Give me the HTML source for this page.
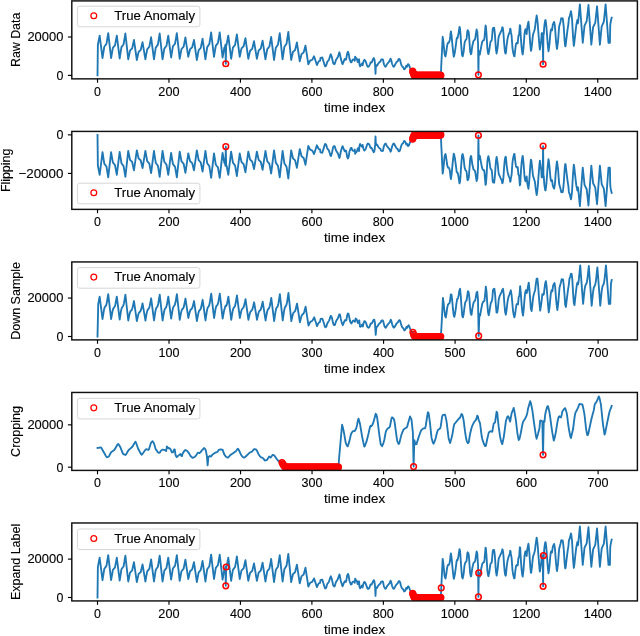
<!DOCTYPE html>
<html><head><meta charset="utf-8"><style>
html,body{margin:0;padding:0;background:#fff;width:640px;height:636px;overflow:hidden}
svg{display:block}
text{font-family:"Liberation Sans", sans-serif;fill:#000;font-size:12.3px;stroke:#000;stroke-width:0.12px}
text.tk{font-size:12.8px}
svg{will-change:transform}
</style></head><body>
<svg width="640" height="636" viewBox="0 0 640 636">
<polyline fill="none" stroke="#1f77b4" stroke-width="1.85" stroke-linejoin="round" stroke-linecap="square" points="97.51,75.40 97.87,45.00 98.22,43.00 98.58,41.00 98.94,39.20 99.30,37.40 99.65,35.60 100.01,38.41 100.37,41.23 100.73,44.04 101.08,46.85 101.44,49.66 101.80,52.48 102.16,55.29 102.51,58.10 102.87,55.82 103.23,53.54 103.58,51.26 103.94,48.98 104.30,46.70 104.66,46.23 105.01,45.75 105.37,45.28 105.73,44.80 106.09,44.33 106.44,43.85 106.80,41.70 107.16,39.55 107.51,37.40 107.87,35.25 108.23,33.10 108.59,36.23 108.94,39.35 109.30,42.48 109.66,45.60 110.02,48.73 110.37,51.85 110.73,54.98 111.09,58.10 111.45,56.05 111.80,54.00 112.16,51.94 112.52,49.89 112.87,47.84 113.23,47.41 113.59,46.99 113.95,46.56 114.30,46.13 114.66,45.70 115.02,45.28 115.38,43.34 115.73,41.41 116.09,39.47 116.45,37.54 116.81,35.60 117.16,38.46 117.52,41.33 117.88,44.19 118.23,47.05 118.59,49.91 118.95,52.78 119.31,55.64 119.66,58.50 120.02,56.22 120.38,53.94 120.74,51.66 121.09,49.38 121.45,47.10 121.81,46.62 122.17,46.15 122.52,45.67 122.88,45.20 123.24,44.73 123.59,44.25 123.95,42.10 124.31,39.95 124.67,37.80 125.02,35.65 125.38,33.50 125.74,36.74 126.10,39.98 126.45,43.21 126.81,46.45 127.17,49.69 127.52,52.92 127.88,56.16 128.24,59.40 128.60,57.63 128.95,55.86 129.31,54.09 129.67,52.32 130.03,50.55 130.38,50.19 130.74,49.82 131.10,49.45 131.46,49.08 131.81,48.71 132.17,48.34 132.53,46.67 132.88,45.01 133.24,43.34 133.60,41.67 133.96,40.00 134.31,42.50 134.67,45.00 135.03,47.50 135.39,50.00 135.74,52.50 136.10,55.00 136.46,57.50 136.82,60.00 137.17,58.38 137.53,56.76 137.89,55.14 138.24,53.52 138.60,51.91 138.96,51.57 139.32,51.23 139.67,50.89 140.03,50.56 140.39,50.22 140.75,49.88 141.10,48.36 141.46,46.83 141.82,45.30 142.18,43.78 142.53,42.25 142.89,44.39 143.25,46.54 143.60,48.68 143.96,50.83 144.32,52.97 144.68,55.11 145.03,57.26 145.39,59.40 145.75,57.38 146.11,55.36 146.46,53.34 146.82,51.32 147.18,49.30 147.53,48.88 147.89,48.46 148.25,48.04 148.61,47.62 148.96,47.20 149.32,46.77 149.68,44.87 150.04,42.96 150.39,41.06 150.75,39.15 151.11,37.25 151.47,40.02 151.82,42.79 152.18,45.56 152.54,48.33 152.89,51.09 153.25,53.86 153.61,56.63 153.97,59.40 154.32,57.04 154.68,54.68 155.04,52.31 155.40,49.95 155.75,47.59 156.11,47.10 156.47,46.61 156.83,46.11 157.18,45.62 157.54,45.13 157.90,44.64 158.25,42.41 158.61,40.18 158.97,37.95 159.33,35.73 159.68,33.50 160.04,36.74 160.40,39.98 160.76,43.21 161.11,46.45 161.47,49.69 161.83,52.92 162.18,56.16 162.54,59.40 162.90,57.23 163.26,55.06 163.61,52.89 163.97,50.72 164.33,48.55 164.69,48.10 165.04,47.64 165.40,47.19 165.76,46.74 166.12,46.29 166.47,45.83 166.83,43.79 167.19,41.74 167.54,39.69 167.90,37.65 168.26,35.60 168.62,38.34 168.97,41.08 169.33,43.81 169.69,46.55 170.05,49.29 170.40,52.03 170.76,54.76 171.12,57.50 171.48,55.27 171.83,53.05 172.19,50.82 172.55,48.60 172.90,46.37 173.26,45.91 173.62,45.45 173.98,44.98 174.33,44.52 174.69,44.06 175.05,43.59 175.41,41.49 175.76,39.40 176.12,37.30 176.48,35.20 176.84,33.10 177.19,36.31 177.55,39.51 177.91,42.72 178.26,45.92 178.62,49.13 178.98,52.34 179.34,55.54 179.69,58.75 180.05,56.81 180.41,54.87 180.77,52.94 181.12,51.00 181.48,49.06 181.84,48.66 182.19,48.25 182.55,47.85 182.91,47.45 183.27,47.04 183.62,46.64 183.98,44.81 184.34,42.98 184.70,41.16 185.05,39.33 185.41,37.50 185.77,39.93 186.13,42.35 186.48,44.78 186.84,47.20 187.20,49.62 187.55,52.05 187.91,54.47 188.27,56.90 188.63,55.36 188.98,53.82 189.34,52.28 189.70,50.73 190.06,49.19 190.41,48.87 190.77,48.55 191.13,48.23 191.49,47.91 191.84,47.59 192.20,47.27 192.56,45.81 192.91,44.36 193.27,42.91 193.63,41.45 193.99,40.00 194.34,42.50 194.70,45.00 195.06,47.50 195.42,50.00 195.77,52.50 196.13,55.00 196.49,57.50 196.84,60.00 197.20,58.06 197.56,56.12 197.92,54.19 198.27,52.25 198.63,50.31 198.99,49.91 199.35,49.50 199.70,49.10 200.06,48.70 200.42,48.29 200.78,47.89 201.13,46.06 201.49,44.23 201.85,42.41 202.20,40.58 202.56,38.75 202.92,41.33 203.28,43.91 203.63,46.49 203.99,49.08 204.35,51.66 204.71,54.24 205.06,56.82 205.42,59.40 205.78,56.95 206.14,54.49 206.49,52.04 206.85,49.59 207.21,47.13 207.56,46.62 207.92,46.11 208.28,45.60 208.64,45.09 208.99,44.58 209.35,44.07 209.71,41.75 210.07,39.44 210.42,37.13 210.78,34.81 211.14,32.50 211.50,35.55 211.85,38.60 212.21,41.65 212.57,44.70 212.92,47.75 213.28,50.80 213.64,53.85 214.00,56.90 214.35,54.67 214.71,52.45 215.07,50.22 215.43,48.00 215.78,45.77 216.14,45.31 216.50,44.85 216.85,44.38 217.21,43.92 217.57,43.46 217.93,42.99 218.28,40.89 218.64,38.80 219.00,36.70 219.36,34.60 219.71,32.50 220.07,35.63 220.43,38.75 220.79,41.88 221.14,45.00 221.50,48.12 221.86,51.25 222.21,54.38 222.57,57.50 222.93,55.50 223.29,53.51 223.64,51.51 224.00,49.51 224.36,47.51 224.72,47.10 225.07,46.68 225.43,44.60 225.79,63.75 226.15,44.90 226.50,45.02 226.86,43.13 227.22,41.25 227.57,39.37 227.93,37.48 228.29,35.60 228.65,38.49 229.00,41.39 229.36,44.28 229.72,47.17 230.08,50.07 230.43,52.96 230.79,55.86 231.15,58.75 231.50,56.53 231.86,54.31 232.22,52.09 232.58,49.87 232.93,47.65 233.29,47.18 233.65,46.72 234.01,46.26 234.36,45.80 234.72,45.33 235.08,44.87 235.44,42.78 235.79,40.68 236.15,38.59 236.51,36.49 236.86,34.40 237.22,37.21 237.58,40.02 237.94,42.84 238.29,45.65 238.65,48.46 239.01,51.28 239.37,54.09 239.72,56.90 240.08,55.19 240.44,53.47 240.80,51.76 241.15,50.04 241.51,48.33 241.87,47.97 242.22,47.61 242.58,47.26 242.94,46.90 243.30,46.54 243.65,46.18 244.01,44.57 244.37,42.95 244.73,41.33 245.08,39.72 245.44,38.10 245.80,40.68 246.16,43.26 246.51,45.84 246.87,48.42 247.23,51.01 247.58,53.59 247.94,56.17 248.30,58.75 248.66,57.15 249.01,55.56 249.37,53.96 249.73,52.37 250.09,50.77 250.44,50.44 250.80,50.10 251.16,49.77 251.51,49.44 251.87,49.11 252.23,48.78 252.59,47.27 252.94,45.77 253.30,44.26 253.66,42.76 254.02,41.25 254.37,43.44 254.73,45.62 255.09,47.81 255.45,50.00 255.80,52.19 256.16,54.38 256.52,56.56 256.87,58.75 257.23,57.09 257.59,55.44 257.95,53.78 258.30,52.13 258.66,50.47 259.02,50.13 259.38,49.78 259.73,49.44 260.09,49.09 260.45,48.75 260.81,48.40 261.16,46.84 261.52,45.28 261.88,43.72 262.23,42.16 262.59,40.60 262.95,42.95 263.31,45.30 263.66,47.65 264.02,50.00 264.38,52.35 264.74,54.70 265.09,57.05 265.45,59.40 265.81,57.35 266.17,55.30 266.52,53.24 266.88,51.19 267.24,49.14 267.59,48.71 267.95,48.29 268.31,47.86 268.67,47.43 269.02,47.00 269.38,46.58 269.74,44.64 270.10,42.71 270.45,40.77 270.81,38.84 271.17,36.90 271.52,39.79 271.88,42.68 272.24,45.56 272.60,48.45 272.95,51.34 273.31,54.23 273.67,57.11 274.03,60.00 274.38,57.55 274.74,55.09 275.10,52.64 275.46,50.19 275.81,47.73 276.17,47.22 276.53,46.71 276.88,46.20 277.24,45.69 277.60,45.18 277.96,44.67 278.31,42.35 278.67,40.04 279.03,37.73 279.39,35.41 279.74,33.10 280.10,36.39 280.46,39.68 280.82,42.96 281.17,46.25 281.53,49.54 281.89,52.83 282.24,56.11 282.60,59.40 282.96,56.89 283.32,54.38 283.67,51.88 284.03,49.37 284.39,46.86 284.75,46.34 285.10,45.81 285.46,45.29 285.82,44.77 286.17,44.25 286.53,43.73 286.89,41.36 287.25,39.00 287.60,36.63 287.96,34.27 288.32,31.90 288.68,35.41 289.03,38.93 289.39,42.44 289.75,45.95 290.11,49.46 290.46,52.98 290.82,56.49 291.18,60.00 291.53,58.40 291.89,56.81 292.25,55.21 292.61,53.62 292.96,52.02 293.32,51.69 293.68,51.36 294.04,51.02 294.39,50.69 294.75,50.36 295.11,50.02 295.47,48.52 295.82,47.02 296.18,45.51 296.54,44.01 296.89,42.50 297.25,44.84 297.61,47.19 297.97,49.53 298.32,51.88 298.68,54.22 299.04,56.56 299.40,58.91 299.75,61.25 300.11,59.82 300.47,58.40 300.83,56.97 301.18,55.54 301.54,54.11 301.90,53.82 302.25,53.52 302.61,53.22 302.97,52.92 303.33,52.63 303.68,52.33 304.04,50.98 304.40,49.64 304.76,48.29 305.11,46.95 305.47,45.60 305.83,47.95 306.18,50.30 306.54,52.65 306.90,55.00 307.26,57.35 307.61,59.70 307.97,62.05 308.33,64.40 308.69,63.66 309.04,62.91 309.40,62.17 309.76,61.43 310.12,60.68 310.47,60.53 310.83,60.37 311.19,60.22 311.54,60.06 311.90,59.91 312.26,59.75 312.62,59.05 312.97,58.35 313.33,57.65 313.69,56.95 314.05,56.25 314.40,57.34 314.76,58.44 315.12,59.53 315.48,60.62 315.83,61.72 316.19,62.81 316.55,63.91 316.90,65.00 317.26,64.26 317.62,63.52 317.98,62.78 318.33,62.05 318.69,61.31 319.05,61.15 319.41,61.00 319.76,60.84 320.12,60.69 320.48,57.94 320.84,57.85 321.19,57.75 321.55,57.66 321.91,57.57 322.26,57.48 322.62,58.60 322.98,59.77 323.34,60.93 323.69,62.10 324.05,63.27 324.41,64.43 324.77,65.60 325.12,66.35 325.48,66.19 325.84,66.03 326.19,65.58 326.55,64.28 326.91,62.98 327.27,61.85 327.62,61.42 327.98,60.99 328.34,60.56 328.70,60.12 329.05,59.28 329.41,58.17 329.77,57.06 330.13,55.95 330.48,54.83 330.84,54.24 331.20,55.22 331.55,56.19 331.91,57.30 332.27,58.98 332.63,60.67 332.98,62.36 333.34,63.52 333.70,63.78 334.06,64.04 334.41,64.30 334.77,63.79 335.13,62.62 335.49,61.45 335.84,60.28 336.20,59.55 336.56,59.00 336.91,58.44 337.27,57.89 337.63,57.33 337.99,56.59 338.34,55.51 338.70,54.42 339.06,53.34 339.42,52.26 339.77,53.42 340.13,55.23 340.49,57.05 340.84,58.87 341.20,60.09 341.56,61.28 341.92,62.46 342.27,63.65 342.63,64.10 342.99,63.21 343.35,62.32 343.70,61.42 344.06,60.53 344.42,59.64 344.78,59.02 345.13,59.28 345.49,59.54 345.85,59.80 346.20,59.07 346.56,56.93 346.92,54.80 347.28,53.09 347.63,52.45 347.99,51.80 348.35,52.81 348.71,53.83 349.06,55.96 349.42,58.55 349.78,59.73 350.14,60.41 350.49,61.57 350.85,62.27 351.21,62.43 351.56,62.22 351.92,61.21 352.28,60.21 352.64,59.82 352.99,59.52 353.35,59.43 353.71,59.64 354.07,59.86 354.42,60.08 354.78,60.71 355.14,56.60 355.50,57.41 355.85,58.23 356.21,58.01 356.57,58.43 356.92,59.08 357.28,60.40 357.64,61.91 358.00,62.00 358.35,61.57 358.71,59.49 359.07,59.25 359.43,64.11 359.78,65.52 360.14,66.29 360.50,65.64 360.85,64.99 361.21,64.45 361.57,63.96 361.93,63.49 362.28,64.99 362.64,65.37 363.00,63.21 363.36,61.96 363.71,61.06 364.07,60.15 364.43,59.80 364.79,60.13 365.14,60.45 365.50,61.18 365.86,61.99 366.21,62.87 366.57,64.01 366.93,65.14 367.29,65.89 367.64,66.38 368.00,66.87 368.36,66.63 368.72,66.37 369.07,66.11 369.43,65.43 369.79,64.56 370.15,63.54 370.50,62.46 370.86,62.33 371.22,62.49 371.57,62.52 371.93,61.74 372.29,60.96 372.65,60.18 373.00,59.47 373.36,58.76 373.72,58.06 374.08,58.61 374.43,59.37 374.79,61.95 375.15,65.63 375.50,73.75 375.86,66.16 376.22,65.73 376.58,65.30 376.93,65.81 377.29,65.43 377.65,64.62 378.01,63.85 378.36,63.42 378.72,62.99 379.08,62.55 379.44,62.16 379.79,61.90 380.15,61.64 380.51,61.38 380.86,60.17 381.22,59.59 381.58,59.48 381.94,59.37 382.29,59.27 382.65,59.40 383.01,59.65 383.37,61.50 383.72,63.41 384.08,64.50 384.44,65.32 384.80,66.07 385.15,66.39 385.51,66.72 385.87,66.49 386.22,65.71 386.58,64.93 386.94,64.23 387.30,63.80 387.65,63.37 388.01,62.94 388.37,62.50 388.73,62.07 389.08,61.64 389.44,61.21 389.80,60.58 390.16,59.61 390.51,58.64 390.87,59.18 391.23,60.26 391.58,61.67 391.94,63.19 392.30,64.26 392.66,65.24 393.01,66.09 393.37,66.41 393.73,66.74 394.09,66.51 394.44,65.86 394.80,65.22 395.16,64.57 395.51,63.92 395.87,63.27 396.23,62.62 396.59,62.11 396.94,61.85 397.30,61.59 397.66,61.29 398.02,60.51 398.37,59.74 398.73,58.96 399.09,59.01 399.45,59.27 399.80,59.53 400.16,60.42 400.52,61.88 400.87,63.34 401.23,64.36 401.59,65.33 401.95,66.12 402.30,66.45 402.66,66.77 403.02,67.09 403.38,67.61 403.73,68.48 404.09,69.32 404.45,69.12 404.81,68.93 405.16,68.77 405.52,67.79 405.88,66.77 406.23,65.75 406.59,66.19 406.95,66.67 407.31,65.86 407.66,65.05 408.02,64.24 408.38,64.22 408.74,64.74 409.09,65.44 409.45,66.41 409.81,67.39 410.17,68.23 410.52,69.04 410.88,69.86 411.24,70.47 411.59,70.47 411.95,70.47 412.31,70.47 412.67,71.20 413.02,72.30 413.38,73.30 413.74,74.20 414.10,74.90 414.45,75.40 414.81,75.40 415.17,75.40 415.52,75.40 415.88,75.40 416.24,75.40 416.60,75.40 416.95,75.40 417.31,75.40 417.67,75.40 418.03,75.40 418.38,75.40 418.74,75.40 419.10,75.40 419.46,75.40 419.81,75.40 420.17,75.40 420.53,75.40 420.88,75.40 421.24,75.40 421.60,75.40 421.96,75.40 422.31,75.40 422.67,75.40 423.03,75.40 423.39,75.40 423.74,75.40 424.10,75.40 424.46,75.40 424.82,75.40 425.17,75.40 425.53,75.40 425.89,75.40 426.24,75.40 426.60,75.40 426.96,75.40 427.32,75.40 427.67,75.40 428.03,75.40 428.39,75.40 428.75,75.40 429.10,75.40 429.46,75.40 429.82,75.40 430.17,75.40 430.53,75.40 430.89,75.40 431.25,75.40 431.60,75.40 431.96,75.40 432.32,75.40 432.68,75.40 433.03,75.40 433.39,75.40 433.75,75.40 434.11,75.40 434.46,75.40 434.82,75.40 435.18,75.40 435.53,75.40 435.89,75.40 436.25,75.40 436.61,75.40 436.96,75.40 437.32,75.40 437.68,75.40 438.04,75.40 438.39,75.40 438.75,75.40 439.11,75.40 439.47,75.40 439.82,75.40 440.18,75.40 440.54,75.40 440.89,75.40 441.25,65.70 441.61,58.50 441.97,51.20 442.32,44.00 442.68,36.80 443.04,39.14 443.40,42.00 443.75,45.33 444.11,49.22 444.47,53.12 444.83,54.75 445.18,55.88 445.54,56.43 445.90,54.32 446.25,52.21 446.61,49.61 446.97,46.58 447.33,44.71 447.68,43.74 448.04,42.77 448.40,42.70 448.76,42.70 449.11,42.32 449.47,41.03 449.83,39.73 450.18,36.94 450.54,33.33 450.90,31.35 451.26,33.64 451.61,35.98 451.97,39.87 452.33,43.76 452.69,47.65 453.04,50.85 453.40,53.80 453.76,56.74 454.12,55.83 454.47,54.14 454.83,52.45 455.19,50.04 455.54,47.44 455.90,44.80 456.26,41.88 456.62,38.96 456.97,37.79 457.33,38.22 457.69,37.54 458.05,35.92 458.40,34.30 458.76,31.91 459.12,29.45 459.48,26.99 459.83,27.72 460.19,30.53 460.55,35.10 460.90,40.72 461.26,45.64 461.62,50.18 461.98,54.68 462.33,55.55 462.69,56.33 463.05,54.71 463.41,53.09 463.76,50.70 464.12,47.14 464.48,43.57 464.83,41.96 465.19,40.99 465.55,40.10 465.91,39.80 466.26,39.50 466.62,38.42 466.98,34.85 467.34,31.28 467.69,30.19 468.05,30.72 468.41,31.26 468.77,32.97 469.12,37.00 469.48,41.93 469.84,46.86 470.19,51.41 470.55,52.87 470.91,54.33 471.27,53.82 471.62,51.09 471.98,48.37 472.34,45.85 472.70,44.29 473.05,42.74 473.41,41.18 473.77,40.66 474.13,40.29 474.48,39.92 474.84,39.55 475.20,38.66 475.55,36.28 475.91,33.94 476.27,31.67 476.63,29.40 476.98,30.76 477.34,32.00 477.70,38.00 478.06,44.00 478.41,74.80 478.77,50.80 479.13,53.00 479.49,54.60 479.84,54.53 480.20,52.46 480.56,50.38 480.91,48.31 481.27,46.43 481.63,44.62 481.99,42.80 482.34,41.60 482.70,41.08 483.06,40.56 483.42,40.13 483.77,40.13 484.13,40.13 484.49,37.82 484.84,33.50 485.20,29.42 485.56,25.52 485.92,26.37 486.27,30.69 486.63,36.11 486.99,42.27 487.35,48.43 487.70,50.86 488.06,53.13 488.42,54.15 488.78,52.53 489.13,50.91 489.49,48.62 489.85,46.03 490.20,43.44 490.56,41.67 490.92,41.24 491.28,40.81 491.63,40.38 491.99,38.19 492.35,33.65 492.71,29.11 493.06,28.07 493.42,27.96 493.78,27.85 494.14,27.74 494.49,30.42 494.85,33.66 495.21,38.64 495.56,44.01 495.92,49.41 496.28,51.48 496.64,53.47 496.99,51.40 497.35,49.04 497.71,46.50 498.07,42.61 498.42,38.72 498.78,36.33 499.14,35.55 499.50,34.78 499.85,33.99 500.21,33.18 500.57,32.37 500.92,31.65 501.28,31.00 501.64,30.35 502.00,28.82 502.35,27.20 502.71,27.67 503.07,29.96 503.43,33.09 503.78,38.28 504.14,43.47 504.50,47.52 504.85,50.98 505.21,52.71 505.57,53.61 505.93,53.04 506.28,49.04 506.64,45.11 507.00,42.52 507.36,39.92 507.71,37.88 508.07,36.58 508.43,35.28 508.79,34.06 509.14,33.41 509.50,32.77 509.86,31.18 510.21,28.58 510.57,29.26 510.93,32.67 511.29,33.97 511.64,36.07 512.00,41.26 512.36,46.44 512.72,49.79 513.07,51.73 513.43,53.68 513.79,55.02 514.15,56.32 514.50,56.29 514.86,53.05 515.22,49.81 515.57,46.99 515.93,44.40 516.29,43.33 516.65,43.01 517.00,42.71 517.36,43.14 517.72,43.33 518.08,39.44 518.43,35.82 518.79,35.39 519.15,34.53 519.50,29.83 519.86,25.13 520.22,25.88 520.58,33.02 520.93,38.90 521.29,43.44 521.65,47.98 522.01,50.74 522.36,53.17 522.72,54.47 523.08,51.39 523.44,48.32 523.79,43.93 524.15,38.87 524.51,33.81 524.86,31.72 525.22,29.78 525.58,29.16 525.94,30.03 526.29,32.07 526.65,34.05 527.01,30.16 527.37,26.71 527.72,25.02 528.08,23.34 528.44,21.65 528.80,24.84 529.15,28.57 529.51,32.77 529.87,38.28 530.22,43.79 530.58,47.75 530.94,50.78 531.30,49.97 531.65,47.05 532.01,44.13 532.37,40.56 532.73,36.99 533.08,34.36 533.44,33.32 533.80,32.28 534.16,31.23 534.51,29.93 534.87,28.63 535.23,26.22 535.58,22.50 535.94,20.17 536.30,17.83 536.66,15.50 537.01,17.45 537.37,20.36 537.73,23.63 538.09,28.49 538.44,33.35 538.80,37.97 539.16,42.38 539.51,46.79 539.87,49.59 540.23,47.32 540.59,45.05 540.94,42.59 541.30,39.99 541.66,33.20 542.02,33.00 542.37,33.50 542.73,34.00 543.09,64.20 543.45,33.50 543.80,34.30 544.16,27.83 544.52,24.63 544.87,22.42 545.23,20.22 545.59,20.05 545.95,22.80 546.30,25.56 546.66,29.99 547.02,34.92 547.38,39.85 547.73,44.13 548.09,47.70 548.45,51.26 548.81,49.41 549.16,46.49 549.52,43.32 549.88,39.10 550.23,34.89 550.59,31.82 550.95,29.66 551.31,29.23 551.66,30.04 552.02,30.32 552.38,28.01 552.74,24.91 553.09,24.03 553.45,23.12 553.81,22.22 554.16,21.88 554.52,23.99 554.88,26.10 555.24,30.14 555.59,35.76 555.95,40.17 556.31,43.67 556.67,47.17 557.02,48.96 557.38,46.24 557.74,43.51 558.10,40.79 558.45,35.66 558.81,30.47 559.17,26.60 559.52,25.31 559.88,24.01 560.24,22.71 560.60,21.42 560.95,19.42 561.31,18.10 561.67,18.19 562.03,18.28 562.38,18.38 562.74,18.47 563.10,21.03 563.46,24.28 563.81,27.90 564.17,33.74 564.53,39.57 564.88,43.76 565.24,46.35 565.60,45.92 565.96,42.81 566.31,39.70 566.67,36.63 567.03,33.71 567.39,30.79 567.74,28.26 568.10,25.99 568.46,23.72 568.82,19.28 569.17,17.36 569.53,16.93 569.89,15.78 570.24,14.27 570.60,12.76 570.96,11.24 571.32,12.83 571.67,15.75 572.03,18.89 572.39,25.37 572.75,31.86 573.10,37.38 573.46,41.59 573.82,45.81 574.17,44.07 574.53,40.70 574.89,37.33 575.25,34.08 575.60,30.97 575.96,27.86 576.32,25.00 576.68,23.28 577.03,21.55 577.39,19.82 577.75,23.30 578.11,22.50 578.46,18.88 578.82,15.26 579.18,11.64 579.53,8.02 579.89,4.40 580.25,9.20 580.61,14.00 580.96,18.80 581.32,23.60 581.68,28.40 582.04,33.20 582.39,38.00 582.75,42.80 583.11,39.35 583.47,35.91 583.82,32.46 584.18,29.01 584.54,25.56 584.89,24.85 585.25,24.13 585.61,23.41 585.97,22.69 586.32,21.97 586.68,21.25 587.04,18.00 587.40,14.75 587.75,11.50 588.11,8.25 588.47,5.00 588.83,9.96 589.18,14.93 589.54,19.89 589.90,24.85 590.25,29.81 590.61,34.78 590.97,39.74 591.33,44.70 591.68,41.20 592.04,37.70 592.40,34.19 592.76,30.69 593.11,27.19 593.47,26.46 593.83,25.73 594.18,25.00 594.54,24.27 594.90,23.54 595.26,22.81 595.61,19.51 595.97,16.21 596.33,12.90 596.69,9.60 597.04,6.30 597.40,11.10 597.76,15.90 598.12,20.70 598.47,25.50 598.83,30.30 599.19,35.10 599.54,39.90 599.90,44.70 600.26,41.02 600.62,37.35 600.97,33.67 601.33,30.00 601.69,26.32 602.05,25.56 602.40,24.79 602.76,24.03 603.12,23.26 603.48,22.49 603.83,21.73 604.19,18.26 604.55,14.80 604.90,11.33 605.26,7.87 605.62,4.40 605.98,9.20 606.33,14.00 606.69,18.80 607.05,23.60 607.41,28.40 607.76,33.20 608.12,38.00 608.48,42.80 608.83,42.80 609.19,42.80 609.55,42.80 609.91,42.80 610.26,25.00 610.62,22.50 610.98,20.50 611.34,19.00 611.69,17.60"/>
<circle cx="225.79" cy="63.75" r="2.85" fill="none" stroke="#ff0000" stroke-width="1.5"/>
<circle cx="412.67" cy="71.20" r="2.85" fill="none" stroke="#ff0000" stroke-width="1.5"/>
<circle cx="413.02" cy="72.30" r="2.85" fill="none" stroke="#ff0000" stroke-width="1.5"/>
<circle cx="413.38" cy="73.30" r="2.85" fill="none" stroke="#ff0000" stroke-width="1.5"/>
<circle cx="413.74" cy="74.20" r="2.85" fill="none" stroke="#ff0000" stroke-width="1.5"/>
<circle cx="414.10" cy="74.90" r="2.85" fill="none" stroke="#ff0000" stroke-width="1.5"/>
<circle cx="414.45" cy="75.40" r="2.85" fill="none" stroke="#ff0000" stroke-width="1.5"/>
<circle cx="414.81" cy="75.40" r="2.85" fill="none" stroke="#ff0000" stroke-width="1.5"/>
<circle cx="415.17" cy="75.40" r="2.85" fill="none" stroke="#ff0000" stroke-width="1.5"/>
<circle cx="415.52" cy="75.40" r="2.85" fill="none" stroke="#ff0000" stroke-width="1.5"/>
<circle cx="415.88" cy="75.40" r="2.85" fill="none" stroke="#ff0000" stroke-width="1.5"/>
<circle cx="416.24" cy="75.40" r="2.85" fill="none" stroke="#ff0000" stroke-width="1.5"/>
<circle cx="416.60" cy="75.40" r="2.85" fill="none" stroke="#ff0000" stroke-width="1.5"/>
<circle cx="416.95" cy="75.40" r="2.85" fill="none" stroke="#ff0000" stroke-width="1.5"/>
<circle cx="417.31" cy="75.40" r="2.85" fill="none" stroke="#ff0000" stroke-width="1.5"/>
<circle cx="417.67" cy="75.40" r="2.85" fill="none" stroke="#ff0000" stroke-width="1.5"/>
<circle cx="418.03" cy="75.40" r="2.85" fill="none" stroke="#ff0000" stroke-width="1.5"/>
<circle cx="418.38" cy="75.40" r="2.85" fill="none" stroke="#ff0000" stroke-width="1.5"/>
<circle cx="418.74" cy="75.40" r="2.85" fill="none" stroke="#ff0000" stroke-width="1.5"/>
<circle cx="419.10" cy="75.40" r="2.85" fill="none" stroke="#ff0000" stroke-width="1.5"/>
<circle cx="419.46" cy="75.40" r="2.85" fill="none" stroke="#ff0000" stroke-width="1.5"/>
<circle cx="419.81" cy="75.40" r="2.85" fill="none" stroke="#ff0000" stroke-width="1.5"/>
<circle cx="420.17" cy="75.40" r="2.85" fill="none" stroke="#ff0000" stroke-width="1.5"/>
<circle cx="420.53" cy="75.40" r="2.85" fill="none" stroke="#ff0000" stroke-width="1.5"/>
<circle cx="420.88" cy="75.40" r="2.85" fill="none" stroke="#ff0000" stroke-width="1.5"/>
<circle cx="421.24" cy="75.40" r="2.85" fill="none" stroke="#ff0000" stroke-width="1.5"/>
<circle cx="421.60" cy="75.40" r="2.85" fill="none" stroke="#ff0000" stroke-width="1.5"/>
<circle cx="421.96" cy="75.40" r="2.85" fill="none" stroke="#ff0000" stroke-width="1.5"/>
<circle cx="422.31" cy="75.40" r="2.85" fill="none" stroke="#ff0000" stroke-width="1.5"/>
<circle cx="422.67" cy="75.40" r="2.85" fill="none" stroke="#ff0000" stroke-width="1.5"/>
<circle cx="423.03" cy="75.40" r="2.85" fill="none" stroke="#ff0000" stroke-width="1.5"/>
<circle cx="423.39" cy="75.40" r="2.85" fill="none" stroke="#ff0000" stroke-width="1.5"/>
<circle cx="423.74" cy="75.40" r="2.85" fill="none" stroke="#ff0000" stroke-width="1.5"/>
<circle cx="424.10" cy="75.40" r="2.85" fill="none" stroke="#ff0000" stroke-width="1.5"/>
<circle cx="424.46" cy="75.40" r="2.85" fill="none" stroke="#ff0000" stroke-width="1.5"/>
<circle cx="424.82" cy="75.40" r="2.85" fill="none" stroke="#ff0000" stroke-width="1.5"/>
<circle cx="425.17" cy="75.40" r="2.85" fill="none" stroke="#ff0000" stroke-width="1.5"/>
<circle cx="425.53" cy="75.40" r="2.85" fill="none" stroke="#ff0000" stroke-width="1.5"/>
<circle cx="425.89" cy="75.40" r="2.85" fill="none" stroke="#ff0000" stroke-width="1.5"/>
<circle cx="426.24" cy="75.40" r="2.85" fill="none" stroke="#ff0000" stroke-width="1.5"/>
<circle cx="426.60" cy="75.40" r="2.85" fill="none" stroke="#ff0000" stroke-width="1.5"/>
<circle cx="426.96" cy="75.40" r="2.85" fill="none" stroke="#ff0000" stroke-width="1.5"/>
<circle cx="427.32" cy="75.40" r="2.85" fill="none" stroke="#ff0000" stroke-width="1.5"/>
<circle cx="427.67" cy="75.40" r="2.85" fill="none" stroke="#ff0000" stroke-width="1.5"/>
<circle cx="428.03" cy="75.40" r="2.85" fill="none" stroke="#ff0000" stroke-width="1.5"/>
<circle cx="428.39" cy="75.40" r="2.85" fill="none" stroke="#ff0000" stroke-width="1.5"/>
<circle cx="428.75" cy="75.40" r="2.85" fill="none" stroke="#ff0000" stroke-width="1.5"/>
<circle cx="429.10" cy="75.40" r="2.85" fill="none" stroke="#ff0000" stroke-width="1.5"/>
<circle cx="429.46" cy="75.40" r="2.85" fill="none" stroke="#ff0000" stroke-width="1.5"/>
<circle cx="429.82" cy="75.40" r="2.85" fill="none" stroke="#ff0000" stroke-width="1.5"/>
<circle cx="430.17" cy="75.40" r="2.85" fill="none" stroke="#ff0000" stroke-width="1.5"/>
<circle cx="430.53" cy="75.40" r="2.85" fill="none" stroke="#ff0000" stroke-width="1.5"/>
<circle cx="430.89" cy="75.40" r="2.85" fill="none" stroke="#ff0000" stroke-width="1.5"/>
<circle cx="431.25" cy="75.40" r="2.85" fill="none" stroke="#ff0000" stroke-width="1.5"/>
<circle cx="431.60" cy="75.40" r="2.85" fill="none" stroke="#ff0000" stroke-width="1.5"/>
<circle cx="431.96" cy="75.40" r="2.85" fill="none" stroke="#ff0000" stroke-width="1.5"/>
<circle cx="432.32" cy="75.40" r="2.85" fill="none" stroke="#ff0000" stroke-width="1.5"/>
<circle cx="432.68" cy="75.40" r="2.85" fill="none" stroke="#ff0000" stroke-width="1.5"/>
<circle cx="433.03" cy="75.40" r="2.85" fill="none" stroke="#ff0000" stroke-width="1.5"/>
<circle cx="433.39" cy="75.40" r="2.85" fill="none" stroke="#ff0000" stroke-width="1.5"/>
<circle cx="433.75" cy="75.40" r="2.85" fill="none" stroke="#ff0000" stroke-width="1.5"/>
<circle cx="434.11" cy="75.40" r="2.85" fill="none" stroke="#ff0000" stroke-width="1.5"/>
<circle cx="434.46" cy="75.40" r="2.85" fill="none" stroke="#ff0000" stroke-width="1.5"/>
<circle cx="434.82" cy="75.40" r="2.85" fill="none" stroke="#ff0000" stroke-width="1.5"/>
<circle cx="435.18" cy="75.40" r="2.85" fill="none" stroke="#ff0000" stroke-width="1.5"/>
<circle cx="435.53" cy="75.40" r="2.85" fill="none" stroke="#ff0000" stroke-width="1.5"/>
<circle cx="435.89" cy="75.40" r="2.85" fill="none" stroke="#ff0000" stroke-width="1.5"/>
<circle cx="436.25" cy="75.40" r="2.85" fill="none" stroke="#ff0000" stroke-width="1.5"/>
<circle cx="436.61" cy="75.40" r="2.85" fill="none" stroke="#ff0000" stroke-width="1.5"/>
<circle cx="436.96" cy="75.40" r="2.85" fill="none" stroke="#ff0000" stroke-width="1.5"/>
<circle cx="437.32" cy="75.40" r="2.85" fill="none" stroke="#ff0000" stroke-width="1.5"/>
<circle cx="437.68" cy="75.40" r="2.85" fill="none" stroke="#ff0000" stroke-width="1.5"/>
<circle cx="438.04" cy="75.40" r="2.85" fill="none" stroke="#ff0000" stroke-width="1.5"/>
<circle cx="438.39" cy="75.40" r="2.85" fill="none" stroke="#ff0000" stroke-width="1.5"/>
<circle cx="438.75" cy="75.40" r="2.85" fill="none" stroke="#ff0000" stroke-width="1.5"/>
<circle cx="439.11" cy="75.40" r="2.85" fill="none" stroke="#ff0000" stroke-width="1.5"/>
<circle cx="439.47" cy="75.40" r="2.85" fill="none" stroke="#ff0000" stroke-width="1.5"/>
<circle cx="439.82" cy="75.40" r="2.85" fill="none" stroke="#ff0000" stroke-width="1.5"/>
<circle cx="440.18" cy="75.40" r="2.85" fill="none" stroke="#ff0000" stroke-width="1.5"/>
<circle cx="440.54" cy="75.40" r="2.85" fill="none" stroke="#ff0000" stroke-width="1.5"/>
<circle cx="440.89" cy="75.40" r="2.85" fill="none" stroke="#ff0000" stroke-width="1.5"/>
<circle cx="478.41" cy="74.80" r="2.85" fill="none" stroke="#ff0000" stroke-width="1.5"/>
<circle cx="543.09" cy="64.20" r="2.85" fill="none" stroke="#ff0000" stroke-width="1.5"/>
<rect x="71.80" y="0.90" width="565.60" height="77.95" fill="none" stroke="#111" stroke-width="1.45"/>
<line x1="67.90" y1="75.40" x2="71.80" y2="75.40" stroke="#000" stroke-width="1.15"/>
<text x="63.40" y="79.70" text-anchor="end" textLength="6.90" lengthAdjust="spacingAndGlyphs" class="tk">0</text>
<line x1="67.90" y1="37.00" x2="71.80" y2="37.00" stroke="#000" stroke-width="1.15"/>
<text x="63.40" y="41.30" text-anchor="end" textLength="36.00" lengthAdjust="spacingAndGlyphs" class="tk">20000</text>
<line x1="97.51" y1="78.85" x2="97.51" y2="82.75" stroke="#000" stroke-width="1.15"/>
<text x="97.51" y="95.55" text-anchor="middle" textLength="6.90" lengthAdjust="spacingAndGlyphs" class="tk">0</text>
<line x1="168.97" y1="78.85" x2="168.97" y2="82.75" stroke="#000" stroke-width="1.15"/>
<text x="168.97" y="95.55" text-anchor="middle" textLength="21.20" lengthAdjust="spacingAndGlyphs" class="tk">200</text>
<line x1="240.44" y1="78.85" x2="240.44" y2="82.75" stroke="#000" stroke-width="1.15"/>
<text x="240.44" y="95.55" text-anchor="middle" textLength="21.00" lengthAdjust="spacingAndGlyphs" class="tk">400</text>
<line x1="311.90" y1="78.85" x2="311.90" y2="82.75" stroke="#000" stroke-width="1.15"/>
<text x="311.90" y="95.55" text-anchor="middle" textLength="21.00" lengthAdjust="spacingAndGlyphs" class="tk">600</text>
<line x1="383.37" y1="78.85" x2="383.37" y2="82.75" stroke="#000" stroke-width="1.15"/>
<text x="383.37" y="95.55" text-anchor="middle" textLength="21.00" lengthAdjust="spacingAndGlyphs" class="tk">800</text>
<line x1="454.83" y1="78.85" x2="454.83" y2="82.75" stroke="#000" stroke-width="1.15"/>
<text x="454.83" y="95.55" text-anchor="middle" textLength="28.10" lengthAdjust="spacingAndGlyphs" class="tk">1000</text>
<line x1="526.29" y1="78.85" x2="526.29" y2="82.75" stroke="#000" stroke-width="1.15"/>
<text x="526.29" y="95.55" text-anchor="middle" textLength="28.10" lengthAdjust="spacingAndGlyphs" class="tk">1200</text>
<line x1="597.76" y1="78.85" x2="597.76" y2="82.75" stroke="#000" stroke-width="1.15"/>
<text x="597.76" y="95.55" text-anchor="middle" textLength="28.10" lengthAdjust="spacingAndGlyphs" class="tk">1400</text>
<text x="354.60" y="111.75" text-anchor="middle" textLength="61.00" lengthAdjust="spacingAndGlyphs">time index</text>
<g transform="translate(20.10,39.88) rotate(-90)"><text x="0.00" y="0.00" text-anchor="middle" textLength="54.30" lengthAdjust="spacingAndGlyphs">Raw Data</text></g>
<rect x="77.4" y="6.20" width="122.5" height="20.6" rx="2.3" fill="#fff" fill-opacity="0.8" stroke="#d6d6d6" stroke-width="1"/>
<circle cx="93.8" cy="15.70" r="2.9" fill="none" stroke="#ff0000" stroke-width="1.25"/>
<text x="114.20" y="19.75" text-anchor="start" textLength="80.80" lengthAdjust="spacingAndGlyphs">True Anomaly</text>
<polyline fill="none" stroke="#1f77b4" stroke-width="1.85" stroke-linejoin="round" stroke-linecap="square" points="97.51,134.85 97.87,165.37 98.22,167.38 98.58,169.38 98.94,171.19 99.30,173.00 99.65,174.81 100.01,171.98 100.37,169.16 100.73,166.34 101.08,163.51 101.44,160.69 101.80,157.86 102.16,155.04 102.51,152.22 102.87,154.51 103.23,156.80 103.58,159.08 103.94,161.37 104.30,163.66 104.66,164.14 105.01,164.62 105.37,165.09 105.73,165.57 106.09,166.05 106.44,166.52 106.80,168.68 107.16,170.84 107.51,173.00 107.87,175.16 108.23,177.32 108.59,174.18 108.94,171.04 109.30,167.90 109.66,164.77 110.02,161.63 110.37,158.49 110.73,155.35 111.09,152.22 111.45,154.28 111.80,156.34 112.16,158.40 112.52,160.46 112.87,162.52 113.23,162.95 113.59,163.38 113.95,163.81 114.30,164.23 114.66,164.66 115.02,165.09 115.38,167.04 115.73,168.98 116.09,170.92 116.45,172.86 116.81,174.81 117.16,171.93 117.52,169.06 117.88,166.18 118.23,163.31 118.59,160.44 118.95,157.56 119.31,154.69 119.66,151.82 120.02,154.10 120.38,156.39 120.74,158.68 121.09,160.97 121.45,163.26 121.81,163.74 122.17,164.21 122.52,164.69 122.88,165.17 123.24,165.64 123.59,166.12 123.95,168.28 124.31,170.44 124.67,172.60 125.02,174.76 125.38,176.91 125.74,173.66 126.10,170.41 126.45,167.16 126.81,163.91 127.17,160.66 127.52,157.41 127.88,154.16 128.24,150.91 128.60,152.69 128.95,154.46 129.31,156.24 129.67,158.02 130.03,159.79 130.38,160.16 130.74,160.53 131.10,160.90 131.46,161.27 131.81,161.64 132.17,162.01 132.53,163.69 132.88,165.36 133.24,167.04 133.60,168.71 133.96,170.39 134.31,167.88 134.67,165.37 135.03,162.86 135.39,160.35 135.74,157.84 136.10,155.33 136.46,152.82 136.82,150.31 137.17,151.94 137.53,153.56 137.89,155.19 138.24,156.81 138.60,158.44 138.96,158.77 139.32,159.11 139.67,159.45 140.03,159.79 140.39,160.13 140.75,160.47 141.10,162.00 141.46,163.53 141.82,165.06 142.18,166.60 142.53,168.13 142.89,165.98 143.25,163.83 143.60,161.67 143.96,159.52 144.32,157.37 144.68,155.22 145.03,153.06 145.39,150.91 145.75,152.94 146.11,154.97 146.46,157.00 146.82,159.02 147.18,161.05 147.53,161.47 147.89,161.90 148.25,162.32 148.61,162.74 148.96,163.16 149.32,163.59 149.68,165.50 150.04,167.41 150.39,169.32 150.75,171.24 151.11,173.15 151.47,170.37 151.82,167.59 152.18,164.81 152.54,162.03 152.89,159.25 153.25,156.47 153.61,153.69 153.97,150.91 154.32,153.28 154.68,155.66 155.04,158.03 155.40,160.40 155.75,162.77 156.11,163.26 156.47,163.76 156.83,164.25 157.18,164.75 157.54,165.24 157.90,165.73 158.25,167.97 158.61,170.21 158.97,172.44 159.33,174.68 159.68,176.91 160.04,173.66 160.40,170.41 160.76,167.16 161.11,163.91 161.47,160.66 161.83,157.41 162.18,154.16 162.54,150.91 162.90,153.09 163.26,155.27 163.61,157.45 163.97,159.63 164.33,161.81 164.69,162.26 165.04,162.72 165.40,163.17 165.76,163.62 166.12,164.08 166.47,164.53 166.83,166.59 167.19,168.64 167.54,170.70 167.90,172.75 168.26,174.81 168.62,172.06 168.97,169.31 169.33,166.56 169.69,163.81 170.05,161.06 170.40,158.32 170.76,155.57 171.12,152.82 171.48,155.05 171.83,157.29 172.19,159.52 172.55,161.76 172.90,163.99 173.26,164.46 173.62,164.92 173.98,165.39 174.33,165.85 174.69,166.32 175.05,166.78 175.41,168.89 175.76,171.00 176.12,173.10 176.48,175.21 176.84,177.32 177.19,174.10 177.55,170.88 177.91,167.66 178.26,164.44 178.62,161.22 178.98,158.00 179.34,154.78 179.69,151.57 180.05,153.51 180.41,155.46 180.77,157.40 181.12,159.35 181.48,161.29 181.84,161.70 182.19,162.10 182.55,162.51 182.91,162.91 183.27,163.32 183.62,163.72 183.98,165.56 184.34,167.39 184.70,169.23 185.05,171.06 185.41,172.90 185.77,170.46 186.13,168.03 186.48,165.59 186.84,163.16 187.20,160.73 187.55,158.29 187.91,155.86 188.27,153.42 188.63,154.97 188.98,156.52 189.34,158.06 189.70,159.61 190.06,161.16 190.41,161.48 190.77,161.80 191.13,162.13 191.49,162.45 191.84,162.77 192.20,163.09 192.56,164.55 192.91,166.01 193.27,167.47 193.63,168.93 193.99,170.39 194.34,167.88 194.70,165.37 195.06,162.86 195.42,160.35 195.77,157.84 196.13,155.33 196.49,152.82 196.84,150.31 197.20,152.26 197.56,154.20 197.92,156.15 198.27,158.09 198.63,160.04 198.99,160.44 199.35,160.85 199.70,161.25 200.06,161.66 200.42,162.06 200.78,162.47 201.13,164.30 201.49,166.14 201.85,167.97 202.20,169.81 202.56,171.64 202.92,169.05 203.28,166.46 203.63,163.87 203.99,161.28 204.35,158.69 204.71,156.10 205.06,153.50 205.42,150.91 205.78,153.38 206.14,155.84 206.49,158.30 206.85,160.76 207.21,163.23 207.56,163.74 207.92,164.25 208.28,164.77 208.64,165.28 208.99,165.79 209.35,166.31 209.71,168.63 210.07,170.95 210.42,173.27 210.78,175.60 211.14,177.92 211.50,174.86 211.85,171.79 212.21,168.73 212.57,165.67 212.92,162.61 213.28,159.55 213.64,156.48 214.00,153.42 214.35,155.66 214.71,157.89 215.07,160.12 215.43,162.36 215.78,164.59 216.14,165.06 216.50,165.52 216.85,165.99 217.21,166.45 217.57,166.92 217.93,167.38 218.28,169.49 218.64,171.60 219.00,173.70 219.36,175.81 219.71,177.92 220.07,174.78 220.43,171.64 220.79,168.51 221.14,165.37 221.50,162.23 221.86,159.09 222.21,155.96 222.57,152.82 222.93,154.83 223.29,156.83 223.64,158.84 224.00,160.84 224.36,162.85 224.72,163.26 225.07,163.68 225.43,165.77 225.79,146.55 226.15,165.47 226.50,165.35 226.86,167.24 227.22,169.13 227.57,171.02 227.93,172.91 228.29,174.81 228.65,171.90 229.00,169.00 229.36,166.09 229.72,163.19 230.08,160.28 230.43,157.38 230.79,154.47 231.15,151.57 231.50,153.79 231.86,156.02 232.22,158.25 232.58,160.48 232.93,162.71 233.29,163.18 233.65,163.64 234.01,164.11 234.36,164.57 234.72,165.03 235.08,165.50 235.44,167.60 235.79,169.70 236.15,171.81 236.51,173.91 236.86,176.01 237.22,173.19 237.58,170.36 237.94,167.54 238.29,164.72 238.65,161.89 239.01,159.07 239.37,156.25 239.72,153.42 240.08,155.14 240.44,156.86 240.80,158.59 241.15,160.31 241.51,162.03 241.87,162.39 242.22,162.75 242.58,163.10 242.94,163.46 243.30,163.82 243.65,164.18 244.01,165.80 244.37,167.43 244.73,169.05 245.08,170.67 245.44,172.30 245.80,169.70 246.16,167.11 246.51,164.52 246.87,161.93 247.23,159.34 247.58,156.75 247.94,154.16 248.30,151.57 248.66,153.17 249.01,154.77 249.37,156.37 249.73,157.97 250.09,159.58 250.44,159.91 250.80,160.24 251.16,160.58 251.51,160.91 251.87,161.25 252.23,161.58 252.59,163.09 252.94,164.60 253.30,166.11 253.66,167.62 254.02,169.13 254.37,166.94 254.73,164.74 255.09,162.55 255.45,160.35 255.80,158.15 256.16,155.96 256.52,153.76 256.87,151.57 257.23,153.23 257.59,154.89 257.95,156.55 258.30,158.21 258.66,159.87 259.02,160.22 259.38,160.57 259.73,160.91 260.09,161.26 260.45,161.60 260.81,161.95 261.16,163.52 261.52,165.08 261.88,166.65 262.23,168.22 262.59,169.79 262.95,167.43 263.31,165.07 263.66,162.71 264.02,160.35 264.38,157.99 264.74,155.63 265.09,153.27 265.45,150.91 265.81,152.97 266.17,155.03 266.52,157.09 266.88,159.15 267.24,161.21 267.59,161.64 267.95,162.07 268.31,162.50 268.67,162.93 269.02,163.36 269.38,163.79 269.74,165.73 270.10,167.67 270.45,169.62 270.81,171.56 271.17,173.50 271.52,170.60 271.88,167.70 272.24,164.80 272.60,161.91 272.95,159.01 273.31,156.11 273.67,153.21 274.03,150.31 274.38,152.77 274.74,155.24 275.10,157.70 275.46,160.16 275.81,162.62 276.17,163.14 276.53,163.65 276.88,164.16 277.24,164.68 277.60,165.19 277.96,165.70 278.31,168.03 278.67,170.35 279.03,172.67 279.39,174.99 279.74,177.32 280.10,174.01 280.46,170.71 280.82,167.41 281.17,164.11 281.53,160.81 281.89,157.51 282.24,154.21 282.60,150.91 282.96,153.43 283.32,155.95 283.67,158.47 284.03,160.98 284.39,163.50 284.75,164.03 285.10,164.55 285.46,165.08 285.82,165.60 286.17,166.12 286.53,166.65 286.89,169.02 287.25,171.40 287.60,173.77 287.96,176.15 288.32,178.52 288.68,174.99 289.03,171.47 289.39,167.94 289.75,164.42 290.11,160.89 290.46,157.36 290.82,153.84 291.18,150.31 291.53,151.91 291.89,153.51 292.25,155.12 292.61,156.72 292.96,158.32 293.32,158.66 293.68,158.99 294.04,159.32 294.39,159.66 294.75,159.99 295.11,160.32 295.47,161.84 295.82,163.35 296.18,164.86 296.54,166.37 296.89,167.88 297.25,165.53 297.61,163.17 297.97,160.82 298.32,158.47 298.68,156.11 299.04,153.76 299.40,151.41 299.75,149.06 300.11,150.49 300.47,151.92 300.83,153.35 301.18,154.79 301.54,156.22 301.90,156.52 302.25,156.82 302.61,157.12 302.97,157.41 303.33,157.71 303.68,158.01 304.04,159.36 304.40,160.71 304.76,162.06 305.11,163.42 305.47,164.77 305.83,162.41 306.18,160.05 306.54,157.69 306.90,155.33 307.26,152.97 307.61,150.61 307.97,148.25 308.33,145.89 308.69,146.64 309.04,147.39 309.40,148.13 309.76,148.88 310.12,149.62 310.47,149.78 310.83,149.93 311.19,150.09 311.54,150.25 311.90,150.40 312.26,150.56 312.62,151.26 312.97,151.96 313.33,152.67 313.69,153.37 314.05,154.07 314.40,152.98 314.76,151.88 315.12,150.78 315.48,149.68 315.83,148.58 316.19,147.49 316.55,146.39 316.90,145.29 317.26,146.03 317.62,146.77 317.98,147.52 318.33,148.26 318.69,149.00 319.05,149.15 319.41,149.31 319.76,149.46 320.12,149.62 320.48,152.38 320.84,152.47 321.19,152.56 321.55,152.66 321.91,152.75 322.26,152.84 322.62,151.72 322.98,150.55 323.34,149.37 323.69,148.20 324.05,147.03 324.41,145.86 324.77,144.69 325.12,143.93 325.48,144.10 325.84,144.26 326.19,144.71 326.55,146.02 326.91,147.32 327.27,148.45 327.62,148.88 327.98,149.32 328.34,149.75 328.70,150.19 329.05,151.03 329.41,152.15 329.77,153.26 330.13,154.38 330.48,155.50 330.84,156.09 331.20,155.11 331.55,154.14 331.91,153.02 332.27,151.33 332.63,149.64 332.98,147.94 333.34,146.78 333.70,146.52 334.06,146.26 334.41,146.00 334.77,146.51 335.13,147.68 335.49,148.85 335.84,150.02 336.20,150.76 336.56,151.31 336.91,151.87 337.27,152.43 337.63,152.99 337.99,153.74 338.34,154.82 338.70,155.91 339.06,156.99 339.42,158.08 339.77,156.92 340.13,155.09 340.49,153.27 340.84,151.45 341.20,150.22 341.56,149.03 341.92,147.84 342.27,146.64 342.63,146.20 342.99,147.09 343.35,147.99 343.70,148.88 344.06,149.78 344.42,150.67 344.78,151.29 345.13,151.03 345.49,150.77 345.85,150.51 346.20,151.24 346.56,153.39 346.92,155.53 347.28,157.24 347.63,157.89 347.99,158.54 348.35,157.53 348.71,156.50 349.06,154.37 349.42,151.76 349.78,150.58 350.14,149.90 350.49,148.74 350.85,148.03 351.21,147.87 351.56,148.08 351.92,149.09 352.28,150.10 352.64,150.49 352.99,150.79 353.35,150.88 353.71,150.67 354.07,150.45 354.42,150.23 354.78,149.59 355.14,153.72 355.50,152.91 355.85,152.09 356.21,152.30 356.57,151.88 356.92,151.23 357.28,149.91 357.64,148.39 358.00,148.30 358.35,148.73 358.71,150.83 359.07,151.06 359.43,146.18 359.78,144.77 360.14,144.00 360.50,144.65 360.85,145.30 361.21,145.85 361.57,146.33 361.93,146.80 362.28,145.30 362.64,144.92 363.00,147.09 363.36,148.34 363.71,149.25 364.07,150.16 364.43,150.51 364.79,150.18 365.14,149.86 365.50,149.12 365.86,148.31 366.21,147.43 366.57,146.29 366.93,145.15 367.29,144.39 367.64,143.91 368.00,143.42 368.36,143.66 368.72,143.92 369.07,144.18 369.43,144.86 369.79,145.73 370.15,146.76 370.50,147.84 370.86,147.97 371.22,147.81 371.57,147.78 371.93,148.56 372.29,149.34 372.65,150.13 373.00,150.84 373.36,151.55 373.72,152.26 374.08,151.71 374.43,150.94 374.79,148.35 375.15,144.66 375.50,136.51 375.86,144.12 376.22,144.56 376.58,144.99 376.93,144.48 377.29,144.86 377.65,145.68 378.01,146.44 378.36,146.88 378.72,147.31 379.08,147.75 379.44,148.15 379.79,148.41 380.15,148.67 380.51,148.93 380.86,150.14 381.22,150.72 381.58,150.83 381.94,150.94 382.29,151.05 382.65,150.91 383.01,150.66 383.37,148.80 383.72,146.89 384.08,145.79 384.44,144.97 384.80,144.22 385.15,143.89 385.51,143.57 385.87,143.79 386.22,144.57 386.58,145.36 386.94,146.06 387.30,146.49 387.65,146.93 388.01,147.36 388.37,147.80 388.73,148.23 389.08,148.66 389.44,149.10 389.80,149.73 390.16,150.70 390.51,151.68 390.87,151.14 391.23,150.05 391.58,148.63 391.94,147.11 392.30,146.03 392.66,145.05 393.01,144.20 393.37,143.87 393.73,143.55 394.09,143.77 394.44,144.42 394.80,145.07 395.16,145.72 395.51,146.38 395.87,147.03 396.23,147.68 396.59,148.19 396.94,148.45 397.30,148.71 397.66,149.01 398.02,149.79 398.37,150.57 398.73,151.36 399.09,151.30 399.45,151.04 399.80,150.78 400.16,149.88 400.52,148.42 400.87,146.95 401.23,145.93 401.59,144.96 401.95,144.16 402.30,143.84 402.66,143.51 403.02,143.19 403.38,142.67 403.73,141.79 404.09,140.95 404.45,141.15 404.81,141.34 405.16,141.51 405.52,142.49 405.88,143.52 406.23,144.54 406.59,144.10 406.95,143.62 407.31,144.43 407.66,145.24 408.02,146.06 408.38,146.07 408.74,145.55 409.09,144.85 409.45,143.87 409.81,142.90 410.17,142.04 410.52,141.23 410.88,140.42 411.24,139.80 411.59,139.80 411.95,139.80 412.31,139.80 412.67,139.07 413.02,137.96 413.38,136.96 413.74,136.05 414.10,135.35 414.45,134.85 414.81,134.85 415.17,134.85 415.52,134.85 415.88,134.85 416.24,134.85 416.60,134.85 416.95,134.85 417.31,134.85 417.67,134.85 418.03,134.85 418.38,134.85 418.74,134.85 419.10,134.85 419.46,134.85 419.81,134.85 420.17,134.85 420.53,134.85 420.88,134.85 421.24,134.85 421.60,134.85 421.96,134.85 422.31,134.85 422.67,134.85 423.03,134.85 423.39,134.85 423.74,134.85 424.10,134.85 424.46,134.85 424.82,134.85 425.17,134.85 425.53,134.85 425.89,134.85 426.24,134.85 426.60,134.85 426.96,134.85 427.32,134.85 427.67,134.85 428.03,134.85 428.39,134.85 428.75,134.85 429.10,134.85 429.46,134.85 429.82,134.85 430.17,134.85 430.53,134.85 430.89,134.85 431.25,134.85 431.60,134.85 431.96,134.85 432.32,134.85 432.68,134.85 433.03,134.85 433.39,134.85 433.75,134.85 434.11,134.85 434.46,134.85 434.82,134.85 435.18,134.85 435.53,134.85 435.89,134.85 436.25,134.85 436.61,134.85 436.96,134.85 437.32,134.85 437.68,134.85 438.04,134.85 438.39,134.85 438.75,134.85 439.11,134.85 439.47,134.85 439.82,134.85 440.18,134.85 440.54,134.85 440.89,134.85 441.25,144.59 441.61,151.82 441.97,159.14 442.32,166.37 442.68,173.60 443.04,171.25 443.40,168.38 443.75,165.03 444.11,161.13 444.47,157.22 444.83,155.58 445.18,154.44 445.54,153.90 445.90,156.01 446.25,158.13 446.61,160.74 446.97,163.78 447.33,165.66 447.68,166.63 448.04,167.61 448.40,167.68 448.76,167.68 449.11,168.06 449.47,169.36 449.83,170.66 450.18,173.46 450.54,177.08 450.90,179.07 451.26,176.78 451.61,174.43 451.97,170.52 452.33,166.61 452.69,162.71 453.04,159.50 453.40,156.54 453.76,153.58 454.12,154.50 454.47,156.19 454.83,157.89 455.19,160.31 455.54,162.92 455.90,165.57 456.26,168.50 456.62,171.43 456.97,172.61 457.33,172.17 457.69,172.86 458.05,174.49 458.40,176.11 458.76,178.51 459.12,180.98 459.48,183.45 459.83,182.72 460.19,179.90 460.55,175.31 460.90,169.66 461.26,164.73 461.62,160.17 461.98,155.65 462.33,154.78 462.69,153.99 463.05,155.62 463.41,157.25 463.76,159.64 464.12,163.22 464.48,166.80 464.83,168.42 465.19,169.40 465.55,170.29 465.91,170.59 466.26,170.89 466.62,171.98 466.98,175.56 467.34,179.14 467.69,180.24 468.05,179.70 468.41,179.16 468.77,177.44 469.12,173.40 469.48,168.45 469.84,163.50 470.19,158.93 470.55,157.47 470.91,156.00 471.27,156.52 471.62,159.25 471.98,161.99 472.34,164.52 472.70,166.08 473.05,167.64 473.41,169.20 473.77,169.72 474.13,170.10 474.48,170.47 474.84,170.84 475.20,171.73 475.55,174.12 475.91,176.48 476.27,178.75 476.63,181.03 476.98,179.66 477.34,178.42 477.70,172.40 478.06,166.37 478.41,135.45 478.77,159.55 479.13,157.34 479.49,155.73 479.84,155.80 480.20,157.88 480.56,159.96 480.91,162.05 481.27,163.93 481.63,165.75 481.99,167.57 482.34,168.79 482.70,169.31 483.06,169.83 483.42,170.26 483.77,170.26 484.13,170.26 484.49,172.58 484.84,176.92 485.20,181.01 485.56,184.92 485.92,184.07 486.27,179.73 486.63,174.29 486.99,168.11 487.35,161.92 487.70,159.48 488.06,157.21 488.42,156.18 488.78,157.81 489.13,159.44 489.49,161.73 489.85,164.33 490.20,166.94 490.56,168.71 490.92,169.14 491.28,169.58 491.63,170.01 491.99,172.20 492.35,176.76 492.71,181.32 493.06,182.37 493.42,182.47 493.78,182.58 494.14,182.69 494.49,180.00 494.85,176.75 495.21,171.75 495.56,166.36 495.92,160.94 496.28,158.86 496.64,156.87 496.99,158.94 497.35,161.31 497.71,163.87 498.07,167.77 498.42,171.68 498.78,174.07 499.14,174.85 499.50,175.63 499.85,176.42 500.21,177.23 500.57,178.05 500.92,178.77 501.28,179.42 501.64,180.07 502.00,181.61 502.35,183.24 502.71,182.77 503.07,180.47 503.43,177.32 503.78,172.12 504.14,166.91 504.50,162.84 504.85,159.36 505.21,157.63 505.57,156.72 505.93,157.30 506.28,161.32 506.64,165.26 507.00,167.86 507.36,170.46 507.71,172.52 508.07,173.82 508.43,175.13 508.79,176.35 509.14,177.00 509.50,177.65 509.86,179.24 510.21,181.85 510.57,181.17 510.93,177.75 511.29,176.44 511.64,174.34 512.00,169.13 512.36,163.92 512.72,160.56 513.07,158.61 513.43,156.66 513.79,155.31 514.15,154.01 514.50,154.03 514.86,157.29 515.22,160.54 515.57,163.37 515.93,165.97 516.29,167.04 516.65,167.37 517.00,167.67 517.36,167.23 517.72,167.05 518.08,170.95 518.43,174.59 518.79,175.02 519.15,175.88 519.50,180.60 519.86,185.32 520.22,184.56 520.58,177.40 520.93,171.49 521.29,166.94 521.65,162.38 522.01,159.61 522.36,157.17 522.72,155.86 523.08,158.95 523.44,162.04 523.79,166.44 524.15,171.52 524.51,176.60 524.86,178.70 525.22,180.65 525.58,181.27 525.94,180.40 526.29,178.35 526.65,176.36 527.01,180.27 527.37,183.73 527.72,185.43 528.08,187.12 528.44,188.81 528.80,185.61 529.15,181.86 529.51,177.65 529.87,172.12 530.22,166.58 530.58,162.61 530.94,159.57 531.30,160.38 531.65,163.31 532.01,166.25 532.37,169.83 532.73,173.41 533.08,176.05 533.44,177.09 533.80,178.13 534.16,179.19 534.51,180.50 534.87,181.80 535.23,184.23 535.58,187.96 535.94,190.30 536.30,192.64 536.66,194.99 537.01,193.03 537.37,190.10 537.73,186.83 538.09,181.94 538.44,177.06 538.80,172.43 539.16,168.00 539.51,163.57 539.87,160.76 540.23,163.04 540.59,165.32 540.94,167.79 541.30,170.39 541.66,177.21 542.02,177.42 542.37,176.91 542.73,176.41 543.09,146.09 543.45,176.91 543.80,176.11 544.16,182.61 544.52,185.82 544.87,188.04 545.23,190.25 545.59,190.42 545.95,187.65 546.30,184.89 546.66,180.44 547.02,175.49 547.38,170.54 547.73,166.24 548.09,162.66 548.45,159.08 548.81,160.94 549.16,163.87 549.52,167.06 549.88,171.29 550.23,175.52 550.59,178.60 550.95,180.77 551.31,181.20 551.66,180.38 552.02,180.11 552.38,182.43 552.74,185.53 553.09,186.42 553.45,187.33 553.81,188.24 554.16,188.58 554.52,186.46 554.88,184.34 555.24,180.28 555.59,174.64 555.95,170.22 556.31,166.70 556.67,163.19 557.02,161.39 557.38,164.13 557.74,166.86 558.10,169.59 558.45,174.75 558.81,179.95 559.17,183.84 559.52,185.14 559.88,186.44 560.24,187.74 560.60,189.05 560.95,191.05 561.31,192.38 561.67,192.28 562.03,192.19 562.38,192.10 562.74,192.00 563.10,189.43 563.46,186.17 563.81,182.53 564.17,176.68 564.53,170.82 564.88,166.61 565.24,164.01 565.60,164.44 565.96,167.57 566.31,170.69 566.67,173.77 567.03,176.70 567.39,179.63 567.74,182.17 568.10,184.45 568.46,186.73 568.82,191.19 569.17,193.12 569.53,193.55 569.89,194.70 570.24,196.22 570.60,197.74 570.96,199.26 571.32,197.66 571.67,194.73 572.03,191.58 572.39,185.07 572.75,178.56 573.10,173.02 573.46,168.79 573.82,164.56 574.17,166.30 574.53,169.69 574.89,173.07 575.25,176.33 575.60,179.46 575.96,182.58 576.32,185.44 576.68,187.18 577.03,188.91 577.39,190.65 577.75,187.15 578.11,187.95 578.46,191.59 578.82,195.22 579.18,198.86 579.53,202.49 579.89,206.13 580.25,201.31 580.61,196.49 580.96,191.67 581.32,186.85 581.68,182.03 582.04,177.21 582.39,172.40 582.75,167.58 583.11,171.04 583.47,174.50 583.82,177.96 584.18,181.42 584.54,184.88 584.89,185.60 585.25,186.32 585.61,187.04 585.97,187.77 586.32,188.49 586.68,189.21 587.04,192.47 587.40,195.73 587.75,199.00 588.11,202.26 588.47,205.53 588.83,200.54 589.18,195.56 589.54,190.58 589.90,185.60 590.25,180.62 590.61,175.63 590.97,170.65 591.33,165.67 591.68,169.19 592.04,172.70 592.40,176.22 592.76,179.73 593.11,183.25 593.47,183.98 593.83,184.71 594.18,185.45 594.54,186.18 594.90,186.91 595.26,187.64 595.61,190.96 595.97,194.27 596.33,197.59 596.69,200.90 597.04,204.22 597.40,199.40 597.76,194.58 598.12,189.76 598.47,184.94 598.83,180.13 599.19,175.31 599.54,170.49 599.90,165.67 600.26,169.36 600.62,173.05 600.97,176.74 601.33,180.43 601.69,184.12 602.05,184.89 602.40,185.66 602.76,186.42 603.12,187.19 603.48,187.96 603.83,188.73 604.19,192.21 604.55,195.69 604.90,199.17 605.26,202.65 605.62,206.13 605.98,201.31 606.33,196.49 606.69,191.67 607.05,186.85 607.41,182.03 607.76,177.21 608.12,172.40 608.48,167.58 608.83,167.58 609.19,167.58 609.55,167.58 609.91,167.58 610.26,185.45 610.62,187.96 610.98,189.96 611.34,191.47 611.69,192.88"/>
<circle cx="225.79" cy="146.55" r="2.85" fill="none" stroke="#ff0000" stroke-width="1.5"/>
<circle cx="412.67" cy="139.07" r="2.85" fill="none" stroke="#ff0000" stroke-width="1.5"/>
<circle cx="413.02" cy="137.96" r="2.85" fill="none" stroke="#ff0000" stroke-width="1.5"/>
<circle cx="413.38" cy="136.96" r="2.85" fill="none" stroke="#ff0000" stroke-width="1.5"/>
<circle cx="413.74" cy="136.05" r="2.85" fill="none" stroke="#ff0000" stroke-width="1.5"/>
<circle cx="414.10" cy="135.35" r="2.85" fill="none" stroke="#ff0000" stroke-width="1.5"/>
<circle cx="414.45" cy="134.85" r="2.85" fill="none" stroke="#ff0000" stroke-width="1.5"/>
<circle cx="414.81" cy="134.85" r="2.85" fill="none" stroke="#ff0000" stroke-width="1.5"/>
<circle cx="415.17" cy="134.85" r="2.85" fill="none" stroke="#ff0000" stroke-width="1.5"/>
<circle cx="415.52" cy="134.85" r="2.85" fill="none" stroke="#ff0000" stroke-width="1.5"/>
<circle cx="415.88" cy="134.85" r="2.85" fill="none" stroke="#ff0000" stroke-width="1.5"/>
<circle cx="416.24" cy="134.85" r="2.85" fill="none" stroke="#ff0000" stroke-width="1.5"/>
<circle cx="416.60" cy="134.85" r="2.85" fill="none" stroke="#ff0000" stroke-width="1.5"/>
<circle cx="416.95" cy="134.85" r="2.85" fill="none" stroke="#ff0000" stroke-width="1.5"/>
<circle cx="417.31" cy="134.85" r="2.85" fill="none" stroke="#ff0000" stroke-width="1.5"/>
<circle cx="417.67" cy="134.85" r="2.85" fill="none" stroke="#ff0000" stroke-width="1.5"/>
<circle cx="418.03" cy="134.85" r="2.85" fill="none" stroke="#ff0000" stroke-width="1.5"/>
<circle cx="418.38" cy="134.85" r="2.85" fill="none" stroke="#ff0000" stroke-width="1.5"/>
<circle cx="418.74" cy="134.85" r="2.85" fill="none" stroke="#ff0000" stroke-width="1.5"/>
<circle cx="419.10" cy="134.85" r="2.85" fill="none" stroke="#ff0000" stroke-width="1.5"/>
<circle cx="419.46" cy="134.85" r="2.85" fill="none" stroke="#ff0000" stroke-width="1.5"/>
<circle cx="419.81" cy="134.85" r="2.85" fill="none" stroke="#ff0000" stroke-width="1.5"/>
<circle cx="420.17" cy="134.85" r="2.85" fill="none" stroke="#ff0000" stroke-width="1.5"/>
<circle cx="420.53" cy="134.85" r="2.85" fill="none" stroke="#ff0000" stroke-width="1.5"/>
<circle cx="420.88" cy="134.85" r="2.85" fill="none" stroke="#ff0000" stroke-width="1.5"/>
<circle cx="421.24" cy="134.85" r="2.85" fill="none" stroke="#ff0000" stroke-width="1.5"/>
<circle cx="421.60" cy="134.85" r="2.85" fill="none" stroke="#ff0000" stroke-width="1.5"/>
<circle cx="421.96" cy="134.85" r="2.85" fill="none" stroke="#ff0000" stroke-width="1.5"/>
<circle cx="422.31" cy="134.85" r="2.85" fill="none" stroke="#ff0000" stroke-width="1.5"/>
<circle cx="422.67" cy="134.85" r="2.85" fill="none" stroke="#ff0000" stroke-width="1.5"/>
<circle cx="423.03" cy="134.85" r="2.85" fill="none" stroke="#ff0000" stroke-width="1.5"/>
<circle cx="423.39" cy="134.85" r="2.85" fill="none" stroke="#ff0000" stroke-width="1.5"/>
<circle cx="423.74" cy="134.85" r="2.85" fill="none" stroke="#ff0000" stroke-width="1.5"/>
<circle cx="424.10" cy="134.85" r="2.85" fill="none" stroke="#ff0000" stroke-width="1.5"/>
<circle cx="424.46" cy="134.85" r="2.85" fill="none" stroke="#ff0000" stroke-width="1.5"/>
<circle cx="424.82" cy="134.85" r="2.85" fill="none" stroke="#ff0000" stroke-width="1.5"/>
<circle cx="425.17" cy="134.85" r="2.85" fill="none" stroke="#ff0000" stroke-width="1.5"/>
<circle cx="425.53" cy="134.85" r="2.85" fill="none" stroke="#ff0000" stroke-width="1.5"/>
<circle cx="425.89" cy="134.85" r="2.85" fill="none" stroke="#ff0000" stroke-width="1.5"/>
<circle cx="426.24" cy="134.85" r="2.85" fill="none" stroke="#ff0000" stroke-width="1.5"/>
<circle cx="426.60" cy="134.85" r="2.85" fill="none" stroke="#ff0000" stroke-width="1.5"/>
<circle cx="426.96" cy="134.85" r="2.85" fill="none" stroke="#ff0000" stroke-width="1.5"/>
<circle cx="427.32" cy="134.85" r="2.85" fill="none" stroke="#ff0000" stroke-width="1.5"/>
<circle cx="427.67" cy="134.85" r="2.85" fill="none" stroke="#ff0000" stroke-width="1.5"/>
<circle cx="428.03" cy="134.85" r="2.85" fill="none" stroke="#ff0000" stroke-width="1.5"/>
<circle cx="428.39" cy="134.85" r="2.85" fill="none" stroke="#ff0000" stroke-width="1.5"/>
<circle cx="428.75" cy="134.85" r="2.85" fill="none" stroke="#ff0000" stroke-width="1.5"/>
<circle cx="429.10" cy="134.85" r="2.85" fill="none" stroke="#ff0000" stroke-width="1.5"/>
<circle cx="429.46" cy="134.85" r="2.85" fill="none" stroke="#ff0000" stroke-width="1.5"/>
<circle cx="429.82" cy="134.85" r="2.85" fill="none" stroke="#ff0000" stroke-width="1.5"/>
<circle cx="430.17" cy="134.85" r="2.85" fill="none" stroke="#ff0000" stroke-width="1.5"/>
<circle cx="430.53" cy="134.85" r="2.85" fill="none" stroke="#ff0000" stroke-width="1.5"/>
<circle cx="430.89" cy="134.85" r="2.85" fill="none" stroke="#ff0000" stroke-width="1.5"/>
<circle cx="431.25" cy="134.85" r="2.85" fill="none" stroke="#ff0000" stroke-width="1.5"/>
<circle cx="431.60" cy="134.85" r="2.85" fill="none" stroke="#ff0000" stroke-width="1.5"/>
<circle cx="431.96" cy="134.85" r="2.85" fill="none" stroke="#ff0000" stroke-width="1.5"/>
<circle cx="432.32" cy="134.85" r="2.85" fill="none" stroke="#ff0000" stroke-width="1.5"/>
<circle cx="432.68" cy="134.85" r="2.85" fill="none" stroke="#ff0000" stroke-width="1.5"/>
<circle cx="433.03" cy="134.85" r="2.85" fill="none" stroke="#ff0000" stroke-width="1.5"/>
<circle cx="433.39" cy="134.85" r="2.85" fill="none" stroke="#ff0000" stroke-width="1.5"/>
<circle cx="433.75" cy="134.85" r="2.85" fill="none" stroke="#ff0000" stroke-width="1.5"/>
<circle cx="434.11" cy="134.85" r="2.85" fill="none" stroke="#ff0000" stroke-width="1.5"/>
<circle cx="434.46" cy="134.85" r="2.85" fill="none" stroke="#ff0000" stroke-width="1.5"/>
<circle cx="434.82" cy="134.85" r="2.85" fill="none" stroke="#ff0000" stroke-width="1.5"/>
<circle cx="435.18" cy="134.85" r="2.85" fill="none" stroke="#ff0000" stroke-width="1.5"/>
<circle cx="435.53" cy="134.85" r="2.85" fill="none" stroke="#ff0000" stroke-width="1.5"/>
<circle cx="435.89" cy="134.85" r="2.85" fill="none" stroke="#ff0000" stroke-width="1.5"/>
<circle cx="436.25" cy="134.85" r="2.85" fill="none" stroke="#ff0000" stroke-width="1.5"/>
<circle cx="436.61" cy="134.85" r="2.85" fill="none" stroke="#ff0000" stroke-width="1.5"/>
<circle cx="436.96" cy="134.85" r="2.85" fill="none" stroke="#ff0000" stroke-width="1.5"/>
<circle cx="437.32" cy="134.85" r="2.85" fill="none" stroke="#ff0000" stroke-width="1.5"/>
<circle cx="437.68" cy="134.85" r="2.85" fill="none" stroke="#ff0000" stroke-width="1.5"/>
<circle cx="438.04" cy="134.85" r="2.85" fill="none" stroke="#ff0000" stroke-width="1.5"/>
<circle cx="438.39" cy="134.85" r="2.85" fill="none" stroke="#ff0000" stroke-width="1.5"/>
<circle cx="438.75" cy="134.85" r="2.85" fill="none" stroke="#ff0000" stroke-width="1.5"/>
<circle cx="439.11" cy="134.85" r="2.85" fill="none" stroke="#ff0000" stroke-width="1.5"/>
<circle cx="439.47" cy="134.85" r="2.85" fill="none" stroke="#ff0000" stroke-width="1.5"/>
<circle cx="439.82" cy="134.85" r="2.85" fill="none" stroke="#ff0000" stroke-width="1.5"/>
<circle cx="440.18" cy="134.85" r="2.85" fill="none" stroke="#ff0000" stroke-width="1.5"/>
<circle cx="440.54" cy="134.85" r="2.85" fill="none" stroke="#ff0000" stroke-width="1.5"/>
<circle cx="440.89" cy="134.85" r="2.85" fill="none" stroke="#ff0000" stroke-width="1.5"/>
<circle cx="478.41" cy="135.45" r="2.85" fill="none" stroke="#ff0000" stroke-width="1.5"/>
<circle cx="543.09" cy="146.09" r="2.85" fill="none" stroke="#ff0000" stroke-width="1.5"/>
<rect x="71.80" y="131.42" width="565.60" height="77.95" fill="none" stroke="#111" stroke-width="1.45"/>
<line x1="67.90" y1="134.85" x2="71.80" y2="134.85" stroke="#000" stroke-width="1.15"/>
<text x="63.40" y="139.15" text-anchor="end" textLength="6.90" lengthAdjust="spacingAndGlyphs" class="tk">0</text>
<line x1="67.90" y1="173.40" x2="71.80" y2="173.40" stroke="#000" stroke-width="1.15"/>
<text x="63.40" y="177.70" text-anchor="end" textLength="45.00" lengthAdjust="spacingAndGlyphs" class="tk">−20000</text>
<line x1="97.51" y1="209.37" x2="97.51" y2="213.27" stroke="#000" stroke-width="1.15"/>
<text x="97.51" y="226.07" text-anchor="middle" textLength="6.90" lengthAdjust="spacingAndGlyphs" class="tk">0</text>
<line x1="168.97" y1="209.37" x2="168.97" y2="213.27" stroke="#000" stroke-width="1.15"/>
<text x="168.97" y="226.07" text-anchor="middle" textLength="21.20" lengthAdjust="spacingAndGlyphs" class="tk">200</text>
<line x1="240.44" y1="209.37" x2="240.44" y2="213.27" stroke="#000" stroke-width="1.15"/>
<text x="240.44" y="226.07" text-anchor="middle" textLength="21.00" lengthAdjust="spacingAndGlyphs" class="tk">400</text>
<line x1="311.90" y1="209.37" x2="311.90" y2="213.27" stroke="#000" stroke-width="1.15"/>
<text x="311.90" y="226.07" text-anchor="middle" textLength="21.00" lengthAdjust="spacingAndGlyphs" class="tk">600</text>
<line x1="383.37" y1="209.37" x2="383.37" y2="213.27" stroke="#000" stroke-width="1.15"/>
<text x="383.37" y="226.07" text-anchor="middle" textLength="21.00" lengthAdjust="spacingAndGlyphs" class="tk">800</text>
<line x1="454.83" y1="209.37" x2="454.83" y2="213.27" stroke="#000" stroke-width="1.15"/>
<text x="454.83" y="226.07" text-anchor="middle" textLength="28.10" lengthAdjust="spacingAndGlyphs" class="tk">1000</text>
<line x1="526.29" y1="209.37" x2="526.29" y2="213.27" stroke="#000" stroke-width="1.15"/>
<text x="526.29" y="226.07" text-anchor="middle" textLength="28.10" lengthAdjust="spacingAndGlyphs" class="tk">1200</text>
<line x1="597.76" y1="209.37" x2="597.76" y2="213.27" stroke="#000" stroke-width="1.15"/>
<text x="597.76" y="226.07" text-anchor="middle" textLength="28.10" lengthAdjust="spacingAndGlyphs" class="tk">1400</text>
<text x="354.60" y="242.27" text-anchor="middle" textLength="61.00" lengthAdjust="spacingAndGlyphs">time index</text>
<g transform="translate(10.30,170.40) rotate(-90)"><text x="0.00" y="0.00" text-anchor="middle" textLength="43.40" lengthAdjust="spacingAndGlyphs">Flipping</text></g>
<rect x="77.4" y="183.20" width="122.5" height="20.6" rx="2.3" fill="#fff" fill-opacity="0.8" stroke="#d6d6d6" stroke-width="1"/>
<circle cx="93.8" cy="192.70" r="2.9" fill="none" stroke="#ff0000" stroke-width="1.25"/>
<text x="114.20" y="196.75" text-anchor="start" textLength="80.80" lengthAdjust="spacingAndGlyphs">True Anomaly</text>
<polyline fill="none" stroke="#1f77b4" stroke-width="1.85" stroke-linejoin="round" stroke-linecap="square" points="97.51,336.50 98.23,304.07 98.94,300.26 99.66,296.66 100.37,302.29 101.09,307.92 101.80,313.55 102.52,319.18 103.23,314.62 103.95,310.05 104.66,307.29 105.38,306.34 106.09,305.39 106.81,302.76 107.52,298.46 108.24,294.16 108.95,300.41 109.67,306.67 110.38,312.93 111.10,319.18 111.81,315.07 112.53,310.97 113.24,308.48 113.96,307.63 114.67,306.77 115.39,304.41 116.10,300.53 116.82,296.66 117.53,302.39 118.25,308.12 118.96,313.85 119.68,319.58 120.39,315.02 121.11,310.45 121.82,307.70 122.54,306.74 123.26,305.79 123.97,303.17 124.69,298.86 125.40,294.56 126.12,301.04 126.83,307.52 127.55,314.00 128.26,320.48 128.98,316.94 129.69,313.40 130.41,311.26 131.12,310.52 131.84,309.78 132.55,307.74 133.27,304.40 133.98,301.06 134.70,306.07 135.41,311.07 136.13,316.08 136.84,321.08 137.56,317.84 138.27,314.60 138.99,312.64 139.70,311.97 140.42,311.29 141.13,309.43 141.85,306.37 142.56,303.32 143.28,307.61 143.99,311.90 144.71,316.19 145.42,320.48 146.14,316.44 146.85,312.39 147.57,309.95 148.28,309.11 149.00,308.27 149.72,305.94 150.43,302.12 151.15,298.31 151.86,303.85 152.58,309.40 153.29,314.94 154.01,320.48 154.72,315.75 155.44,311.03 156.15,308.17 156.87,307.18 157.58,306.20 158.30,303.48 159.01,299.02 159.73,294.56 160.44,301.04 161.16,307.52 161.87,314.00 162.59,320.48 163.30,316.14 164.02,311.79 164.73,309.17 165.45,308.26 166.16,307.36 166.88,304.85 167.59,300.76 168.31,296.66 169.02,302.14 169.74,307.62 170.45,313.10 171.17,318.58 171.88,314.13 172.60,309.67 173.31,306.98 174.03,306.05 174.75,305.12 175.46,302.56 176.18,298.36 176.89,294.16 177.61,300.58 178.32,306.99 179.04,313.41 179.75,319.83 180.47,315.95 181.18,312.07 181.90,309.73 182.61,308.92 183.33,308.11 184.04,305.88 184.76,302.22 185.47,298.56 186.19,303.42 186.90,308.27 187.62,313.13 188.33,317.98 189.05,314.89 189.76,311.81 190.48,309.94 191.19,309.30 191.91,308.66 192.62,306.88 193.34,303.97 194.05,301.06 194.77,306.07 195.48,311.07 196.20,316.08 196.91,321.08 197.63,317.20 198.34,313.32 199.06,310.98 199.78,310.17 200.49,309.36 201.21,307.13 201.92,303.47 202.64,299.81 203.35,304.98 204.07,310.15 204.78,315.32 205.50,320.48 206.21,315.57 206.93,310.66 207.64,307.69 208.36,306.67 209.07,305.65 209.79,302.82 210.50,298.19 211.22,293.56 211.93,299.66 212.65,305.77 213.36,311.87 214.08,317.98 214.79,313.53 215.51,309.07 216.22,306.38 216.94,305.45 217.65,304.52 218.37,301.96 219.08,297.76 219.80,293.56 220.51,299.81 221.23,306.07 221.94,312.32 222.66,318.58 223.37,314.58 224.09,310.58 224.80,308.17 225.52,305.67 226.24,305.97 226.95,304.20 227.67,300.43 228.38,296.66 229.10,302.45 229.81,308.25 230.53,314.04 231.24,319.83 231.96,315.39 232.67,310.94 233.39,308.25 234.10,307.33 234.82,306.40 235.53,303.84 236.25,299.65 236.96,295.46 237.68,301.09 238.39,306.72 239.11,312.35 239.82,317.98 240.54,314.55 241.25,311.12 241.97,309.04 242.68,308.33 243.40,307.61 244.11,305.64 244.83,302.40 245.54,299.16 246.26,304.33 246.97,309.50 247.69,314.66 248.40,319.83 249.12,316.64 249.83,313.44 250.55,311.51 251.27,310.85 251.98,310.18 252.70,308.34 253.41,305.33 254.13,302.31 254.84,306.69 255.56,311.07 256.27,315.45 256.99,319.83 257.70,316.52 258.42,313.20 259.13,311.20 259.85,310.51 260.56,309.82 261.28,307.91 261.99,304.79 262.71,301.66 263.42,306.37 264.14,311.07 264.85,315.78 265.57,320.48 266.28,316.38 267.00,312.27 267.71,309.78 268.43,308.93 269.14,308.07 269.86,305.71 270.57,301.83 271.29,297.96 272.00,303.74 272.72,309.52 273.43,315.30 274.15,321.08 274.86,316.17 275.58,311.26 276.30,308.29 277.01,307.27 277.73,306.25 278.44,303.42 279.16,298.79 279.87,294.16 280.59,300.74 281.30,307.32 282.02,313.90 282.73,320.48 283.45,315.46 284.16,310.44 284.88,307.41 285.59,306.36 286.31,305.32 287.02,302.42 287.74,297.69 288.45,292.95 289.17,299.99 289.88,307.02 290.60,314.05 291.31,321.08 292.03,317.89 292.74,314.69 293.46,312.76 294.17,312.10 294.89,311.43 295.60,309.59 296.32,306.58 297.03,303.57 297.75,308.26 298.46,312.95 299.18,317.64 299.89,322.34 300.61,319.48 301.32,316.62 302.04,314.89 302.76,314.30 303.47,313.70 304.19,312.06 304.90,309.36 305.62,306.67 306.33,311.37 307.05,316.08 307.76,320.78 308.48,325.49 309.19,324.00 309.91,322.51 310.62,321.61 311.34,321.30 312.05,320.99 312.77,320.14 313.48,318.73 314.20,317.33 314.91,319.52 315.63,321.71 316.34,323.90 317.06,326.09 317.77,324.61 318.49,323.13 319.20,322.24 319.92,321.93 320.63,319.02 321.35,318.84 322.06,318.65 322.78,319.68 323.49,322.02 324.21,324.35 324.92,326.69 325.64,327.28 326.35,326.67 327.07,324.07 327.79,322.51 328.50,321.64 329.22,320.36 329.93,318.14 330.65,315.91 331.36,316.30 332.08,318.38 332.79,321.75 333.51,324.61 334.22,325.13 334.94,324.87 335.65,322.54 336.37,320.64 337.08,319.53 337.80,318.41 338.51,316.58 339.23,314.42 339.94,314.50 340.66,318.13 341.37,321.17 342.09,323.55 342.80,325.19 343.52,323.40 344.23,321.62 344.95,320.11 345.66,320.62 346.38,320.15 347.09,315.88 347.81,313.52 348.52,313.89 349.24,317.04 349.95,320.81 350.67,322.65 351.38,323.51 352.10,322.30 352.81,320.90 353.53,320.51 354.25,320.94 354.96,321.80 355.68,318.50 356.39,319.09 357.11,320.16 357.82,323.00 358.54,322.66 359.25,320.33 359.97,326.61 360.68,326.73 361.40,325.54 362.11,324.58 362.83,326.46 363.54,323.05 364.26,321.23 364.97,321.21 365.69,322.27 366.40,323.96 367.12,326.23 367.83,327.47 368.55,327.72 369.26,327.20 369.98,325.65 370.69,323.55 371.41,323.58 372.12,322.83 372.84,321.27 373.55,319.85 374.27,319.69 374.98,323.04 375.70,334.85 376.41,326.82 377.13,326.90 377.84,325.71 378.56,324.51 379.28,323.64 379.99,322.98 380.71,322.46 381.42,320.67 382.14,320.46 382.85,320.48 383.57,322.59 384.28,325.59 385.00,327.16 385.71,327.81 386.43,326.80 387.14,325.32 387.86,324.46 388.57,323.59 389.29,322.73 390.00,321.67 390.72,319.72 391.43,321.34 392.15,324.27 392.86,326.33 393.58,327.50 394.29,327.60 395.01,326.31 395.72,325.01 396.44,323.71 397.15,322.94 397.87,322.38 398.58,320.82 399.30,320.10 400.01,320.62 400.73,322.97 401.44,325.45 402.16,327.21 402.87,327.86 403.59,328.70 404.31,330.42 405.02,330.03 405.74,328.88 406.45,326.84 407.17,327.76 407.88,326.14 408.60,325.31 409.31,326.53 410.03,328.48 410.74,330.14 411.46,331.56 412.17,331.56 412.89,332.30 413.60,334.40 414.32,336.00 415.03,336.50 415.75,336.50 416.46,336.50 417.18,336.50 417.89,336.50 418.61,336.50 419.32,336.50 420.04,336.50 420.75,336.50 421.47,336.50 422.18,336.50 422.90,336.50 423.61,336.50 424.33,336.50 425.04,336.50 425.76,336.50 426.47,336.50 427.19,336.50 427.90,336.50 428.62,336.50 429.33,336.50 430.05,336.50 430.77,336.50 431.48,336.50 432.20,336.50 432.91,336.50 433.63,336.50 434.34,336.50 435.06,336.50 435.77,336.50 436.49,336.50 437.20,336.50 437.92,336.50 438.63,336.50 439.35,336.50 440.06,336.50 440.78,336.50 441.49,326.79 442.21,312.27 442.92,297.86 443.64,303.07 444.35,310.30 445.07,315.83 445.78,317.51 446.50,313.29 447.21,307.65 447.93,304.81 448.64,303.76 449.36,303.39 450.07,300.79 450.79,294.39 451.50,294.69 452.22,300.93 452.93,308.72 453.65,314.87 454.36,316.91 455.08,313.52 455.80,308.51 456.51,302.94 457.23,298.85 457.94,298.60 458.66,295.35 459.37,290.50 460.09,288.77 460.80,296.16 461.52,306.71 462.23,315.76 462.95,317.41 463.66,314.17 464.38,308.21 465.09,303.03 465.81,301.16 466.52,300.56 467.24,295.91 467.95,291.24 468.67,292.31 469.38,298.06 470.10,307.93 470.81,313.95 471.53,314.89 472.24,309.44 472.96,305.36 473.67,302.24 474.39,301.35 475.10,300.61 475.82,297.34 476.53,292.72 477.25,291.82 477.96,299.06 478.68,335.90 479.39,314.08 480.11,315.61 480.83,311.46 481.54,307.50 482.26,303.87 482.97,302.14 483.69,301.19 484.40,301.19 485.12,294.55 485.83,286.57 486.55,291.75 487.26,303.34 487.98,311.94 488.69,315.23 489.41,311.98 490.12,307.10 490.84,302.74 491.55,301.87 492.27,299.25 492.98,290.16 493.70,289.01 494.41,288.80 495.13,294.72 495.84,305.08 496.56,312.56 497.27,312.48 497.99,307.57 498.70,299.78 499.42,296.61 500.13,295.05 500.85,293.43 501.56,292.05 502.28,289.87 502.99,288.72 503.71,294.15 504.42,304.53 505.14,312.06 505.85,314.69 506.57,310.11 507.29,303.58 508.00,298.94 508.72,296.34 509.43,294.47 510.15,292.23 510.86,290.31 511.58,295.03 512.29,302.32 513.01,310.86 513.72,314.76 514.44,317.40 515.15,314.13 515.87,308.06 516.58,304.40 517.30,303.78 518.01,304.40 518.73,296.88 519.44,295.59 520.16,286.17 520.87,294.07 521.59,304.50 522.30,311.81 523.02,315.55 523.73,309.39 524.45,299.93 525.16,292.78 525.88,290.22 526.59,293.13 527.31,291.21 528.02,286.07 528.74,282.69 529.45,289.62 530.17,299.34 530.88,308.82 531.60,311.04 532.32,305.19 533.03,298.05 533.75,294.38 534.46,292.28 535.18,289.69 535.89,283.55 536.61,278.87 537.32,278.48 538.04,284.67 538.75,294.41 539.47,303.45 540.18,310.67 540.90,306.12 541.61,301.06 542.33,294.06 543.04,295.06 543.76,294.56 544.47,288.88 545.19,283.47 545.90,281.09 546.62,286.61 547.33,295.98 548.05,305.20 548.76,312.34 549.48,307.56 550.19,300.17 550.91,292.88 551.62,290.28 552.34,291.37 553.05,285.96 553.77,284.17 554.48,282.93 555.20,287.15 555.91,296.82 556.63,304.74 557.35,310.03 558.06,304.58 558.78,296.72 559.49,287.65 560.21,285.06 560.92,282.46 561.64,279.14 562.35,279.32 563.07,279.51 563.78,285.32 564.50,294.79 565.21,304.83 565.93,306.99 566.64,300.76 567.36,294.77 568.07,289.31 568.79,284.77 569.50,278.40 570.22,276.82 570.93,273.79 571.65,273.87 572.36,279.93 573.08,292.91 573.79,302.66 574.51,305.14 575.22,298.39 575.94,292.02 576.65,286.05 577.37,282.59 578.08,284.35 578.80,279.92 579.51,272.67 580.23,265.43 580.94,275.04 581.66,284.65 582.37,294.26 583.09,303.87 583.81,296.96 584.52,290.06 585.24,285.89 585.95,284.45 586.67,283.02 587.38,279.04 588.10,272.54 588.81,266.03 589.53,275.96 590.24,285.90 590.96,295.83 591.67,305.77 592.39,298.76 593.10,291.75 593.82,287.51 594.53,286.05 595.25,284.59 595.96,280.55 596.68,273.94 597.39,267.33 598.11,276.94 598.82,286.55 599.54,296.16 600.25,305.77 600.97,298.41 601.68,291.05 602.40,286.61 603.11,285.07 603.83,283.54 604.54,279.30 605.26,272.36 605.97,265.43 606.69,275.04 607.40,284.65 608.12,294.26 608.84,303.87 609.55,303.87 610.27,303.87 610.98,283.54 611.70,280.04"/>
<circle cx="412.89" cy="332.30" r="2.85" fill="none" stroke="#ff0000" stroke-width="1.5"/>
<circle cx="413.60" cy="334.40" r="2.85" fill="none" stroke="#ff0000" stroke-width="1.5"/>
<circle cx="414.32" cy="336.00" r="2.85" fill="none" stroke="#ff0000" stroke-width="1.5"/>
<circle cx="415.03" cy="336.50" r="2.85" fill="none" stroke="#ff0000" stroke-width="1.5"/>
<circle cx="415.75" cy="336.50" r="2.85" fill="none" stroke="#ff0000" stroke-width="1.5"/>
<circle cx="416.46" cy="336.50" r="2.85" fill="none" stroke="#ff0000" stroke-width="1.5"/>
<circle cx="417.18" cy="336.50" r="2.85" fill="none" stroke="#ff0000" stroke-width="1.5"/>
<circle cx="417.89" cy="336.50" r="2.85" fill="none" stroke="#ff0000" stroke-width="1.5"/>
<circle cx="418.61" cy="336.50" r="2.85" fill="none" stroke="#ff0000" stroke-width="1.5"/>
<circle cx="419.32" cy="336.50" r="2.85" fill="none" stroke="#ff0000" stroke-width="1.5"/>
<circle cx="420.04" cy="336.50" r="2.85" fill="none" stroke="#ff0000" stroke-width="1.5"/>
<circle cx="420.75" cy="336.50" r="2.85" fill="none" stroke="#ff0000" stroke-width="1.5"/>
<circle cx="421.47" cy="336.50" r="2.85" fill="none" stroke="#ff0000" stroke-width="1.5"/>
<circle cx="422.18" cy="336.50" r="2.85" fill="none" stroke="#ff0000" stroke-width="1.5"/>
<circle cx="422.90" cy="336.50" r="2.85" fill="none" stroke="#ff0000" stroke-width="1.5"/>
<circle cx="423.61" cy="336.50" r="2.85" fill="none" stroke="#ff0000" stroke-width="1.5"/>
<circle cx="424.33" cy="336.50" r="2.85" fill="none" stroke="#ff0000" stroke-width="1.5"/>
<circle cx="425.04" cy="336.50" r="2.85" fill="none" stroke="#ff0000" stroke-width="1.5"/>
<circle cx="425.76" cy="336.50" r="2.85" fill="none" stroke="#ff0000" stroke-width="1.5"/>
<circle cx="426.47" cy="336.50" r="2.85" fill="none" stroke="#ff0000" stroke-width="1.5"/>
<circle cx="427.19" cy="336.50" r="2.85" fill="none" stroke="#ff0000" stroke-width="1.5"/>
<circle cx="427.90" cy="336.50" r="2.85" fill="none" stroke="#ff0000" stroke-width="1.5"/>
<circle cx="428.62" cy="336.50" r="2.85" fill="none" stroke="#ff0000" stroke-width="1.5"/>
<circle cx="429.33" cy="336.50" r="2.85" fill="none" stroke="#ff0000" stroke-width="1.5"/>
<circle cx="430.05" cy="336.50" r="2.85" fill="none" stroke="#ff0000" stroke-width="1.5"/>
<circle cx="430.77" cy="336.50" r="2.85" fill="none" stroke="#ff0000" stroke-width="1.5"/>
<circle cx="431.48" cy="336.50" r="2.85" fill="none" stroke="#ff0000" stroke-width="1.5"/>
<circle cx="432.20" cy="336.50" r="2.85" fill="none" stroke="#ff0000" stroke-width="1.5"/>
<circle cx="432.91" cy="336.50" r="2.85" fill="none" stroke="#ff0000" stroke-width="1.5"/>
<circle cx="433.63" cy="336.50" r="2.85" fill="none" stroke="#ff0000" stroke-width="1.5"/>
<circle cx="434.34" cy="336.50" r="2.85" fill="none" stroke="#ff0000" stroke-width="1.5"/>
<circle cx="435.06" cy="336.50" r="2.85" fill="none" stroke="#ff0000" stroke-width="1.5"/>
<circle cx="435.77" cy="336.50" r="2.85" fill="none" stroke="#ff0000" stroke-width="1.5"/>
<circle cx="436.49" cy="336.50" r="2.85" fill="none" stroke="#ff0000" stroke-width="1.5"/>
<circle cx="437.20" cy="336.50" r="2.85" fill="none" stroke="#ff0000" stroke-width="1.5"/>
<circle cx="437.92" cy="336.50" r="2.85" fill="none" stroke="#ff0000" stroke-width="1.5"/>
<circle cx="438.63" cy="336.50" r="2.85" fill="none" stroke="#ff0000" stroke-width="1.5"/>
<circle cx="439.35" cy="336.50" r="2.85" fill="none" stroke="#ff0000" stroke-width="1.5"/>
<circle cx="440.06" cy="336.50" r="2.85" fill="none" stroke="#ff0000" stroke-width="1.5"/>
<circle cx="440.78" cy="336.50" r="2.85" fill="none" stroke="#ff0000" stroke-width="1.5"/>
<circle cx="478.68" cy="335.90" r="2.85" fill="none" stroke="#ff0000" stroke-width="1.5"/>
<rect x="71.80" y="261.94" width="565.60" height="77.95" fill="none" stroke="#111" stroke-width="1.45"/>
<line x1="67.90" y1="336.50" x2="71.80" y2="336.50" stroke="#000" stroke-width="1.15"/>
<text x="63.40" y="340.80" text-anchor="end" textLength="6.90" lengthAdjust="spacingAndGlyphs" class="tk">0</text>
<line x1="67.90" y1="298.06" x2="71.80" y2="298.06" stroke="#000" stroke-width="1.15"/>
<text x="63.40" y="302.36" text-anchor="end" textLength="36.00" lengthAdjust="spacingAndGlyphs" class="tk">20000</text>
<line x1="97.51" y1="339.89" x2="97.51" y2="343.79" stroke="#000" stroke-width="1.15"/>
<text x="97.51" y="356.59" text-anchor="middle" textLength="6.90" lengthAdjust="spacingAndGlyphs" class="tk">0</text>
<line x1="169.02" y1="339.89" x2="169.02" y2="343.79" stroke="#000" stroke-width="1.15"/>
<text x="169.02" y="356.59" text-anchor="middle" textLength="21.00" lengthAdjust="spacingAndGlyphs" class="tk">100</text>
<line x1="240.54" y1="339.89" x2="240.54" y2="343.79" stroke="#000" stroke-width="1.15"/>
<text x="240.54" y="356.59" text-anchor="middle" textLength="21.20" lengthAdjust="spacingAndGlyphs" class="tk">200</text>
<line x1="312.05" y1="339.89" x2="312.05" y2="343.79" stroke="#000" stroke-width="1.15"/>
<text x="312.05" y="356.59" text-anchor="middle" textLength="21.00" lengthAdjust="spacingAndGlyphs" class="tk">300</text>
<line x1="383.57" y1="339.89" x2="383.57" y2="343.79" stroke="#000" stroke-width="1.15"/>
<text x="383.57" y="356.59" text-anchor="middle" textLength="21.00" lengthAdjust="spacingAndGlyphs" class="tk">400</text>
<line x1="455.08" y1="339.89" x2="455.08" y2="343.79" stroke="#000" stroke-width="1.15"/>
<text x="455.08" y="356.59" text-anchor="middle" textLength="21.00" lengthAdjust="spacingAndGlyphs" class="tk">500</text>
<line x1="526.59" y1="339.89" x2="526.59" y2="343.79" stroke="#000" stroke-width="1.15"/>
<text x="526.59" y="356.59" text-anchor="middle" textLength="21.00" lengthAdjust="spacingAndGlyphs" class="tk">600</text>
<line x1="598.11" y1="339.89" x2="598.11" y2="343.79" stroke="#000" stroke-width="1.15"/>
<text x="598.11" y="356.59" text-anchor="middle" textLength="21.00" lengthAdjust="spacingAndGlyphs" class="tk">700</text>
<text x="354.60" y="372.79" text-anchor="middle" textLength="61.00" lengthAdjust="spacingAndGlyphs">time index</text>
<g transform="translate(20.10,300.91) rotate(-90)"><text x="0.00" y="0.00" text-anchor="middle" textLength="77.84" lengthAdjust="spacingAndGlyphs">Down Sample</text></g>
<rect x="77.4" y="267.60" width="122.5" height="20.6" rx="2.3" fill="#fff" fill-opacity="0.8" stroke="#d6d6d6" stroke-width="1"/>
<circle cx="93.8" cy="277.10" r="2.9" fill="none" stroke="#ff0000" stroke-width="1.25"/>
<text x="114.20" y="281.15" text-anchor="start" textLength="80.80" lengthAdjust="spacingAndGlyphs">True Anomaly</text>
<polyline fill="none" stroke="#1f77b4" stroke-width="1.85" stroke-linejoin="round" stroke-linecap="square" points="97.51,447.94 98.23,447.84 98.94,447.74 99.66,447.64 100.37,447.53 101.09,447.43 101.80,448.67 102.52,449.96 103.23,451.24 103.95,452.53 104.66,453.82 105.38,455.11 106.09,456.39 106.81,457.22 107.52,457.04 108.24,456.86 108.95,456.36 109.67,454.93 110.38,453.50 111.10,452.26 111.81,451.78 112.53,451.31 113.24,450.83 113.96,450.35 114.67,449.42 115.39,448.20 116.10,446.97 116.82,445.74 117.53,444.52 118.25,443.87 118.96,444.94 119.68,446.01 120.39,447.24 121.11,449.10 121.82,450.95 122.54,452.81 123.26,454.10 123.97,454.38 124.69,454.67 125.40,454.96 126.12,454.39 126.83,453.10 127.55,451.82 128.26,450.53 128.98,449.73 129.69,449.11 130.41,448.50 131.12,447.89 131.84,447.27 132.55,446.45 133.27,445.26 133.98,444.07 134.70,442.88 135.41,441.68 136.13,442.96 136.84,444.96 137.56,446.96 138.27,448.96 138.99,450.31 139.70,451.62 140.42,452.93 141.13,454.25 141.85,454.74 142.56,453.75 143.28,452.77 143.99,451.79 144.71,450.80 145.42,449.82 146.14,449.14 146.85,449.42 147.57,449.71 148.28,450.00 149.00,449.19 149.72,446.83 150.43,444.48 151.15,442.60 151.86,441.89 152.58,441.18 153.29,442.29 154.01,443.41 154.72,445.76 155.44,448.62 156.15,449.92 156.87,450.67 157.58,451.94 158.30,452.72 159.01,452.89 159.73,452.67 160.44,451.56 161.16,450.44 161.87,450.02 162.59,449.69 163.30,449.58 164.02,449.82 164.73,450.06 165.45,450.30 166.16,451.00 166.88,446.47 167.59,447.36 168.31,448.26 169.02,448.02 169.74,448.49 170.45,449.20 171.17,450.65 171.88,452.32 172.60,452.43 173.31,451.95 174.03,449.65 174.75,449.39 175.46,454.75 176.18,456.30 176.89,457.15 177.61,456.44 178.32,455.72 179.04,455.12 179.75,454.58 180.47,454.07 181.18,455.72 181.90,456.14 182.61,453.75 183.33,452.38 184.04,451.38 184.76,450.38 185.47,450.00 186.19,450.36 186.90,450.71 187.62,451.52 188.33,452.41 189.05,453.39 189.76,454.64 190.48,455.89 191.19,456.72 191.91,457.25 192.62,457.79 193.34,457.52 194.05,457.24 194.77,456.95 195.48,456.20 196.20,455.25 196.91,454.12 197.63,452.93 198.34,452.78 199.06,452.96 199.78,452.99 200.49,452.13 201.21,451.28 201.92,450.42 202.64,449.63 203.35,448.85 204.07,448.08 204.78,448.68 205.50,449.52 206.21,452.37 206.93,456.42 207.64,465.38 208.36,457.01 209.07,456.53 209.79,456.06 210.50,456.62 211.22,456.20 211.93,455.31 212.65,454.46 213.36,453.99 214.08,453.51 214.79,453.03 215.51,452.59 216.22,452.31 216.94,452.02 217.65,451.74 218.37,450.40 219.08,449.76 219.80,449.64 220.51,449.53 221.23,449.41 221.94,449.55 222.66,449.83 223.37,451.87 224.09,453.98 224.80,455.18 225.52,456.08 226.24,456.91 226.95,457.27 227.67,457.62 228.38,457.37 229.10,456.52 229.81,455.66 230.53,454.88 231.24,454.41 231.96,453.93 232.67,453.45 233.39,452.98 234.10,452.50 234.82,452.02 235.53,451.55 236.25,450.86 236.96,449.78 237.68,448.71 238.39,449.31 239.11,450.50 239.82,452.06 240.54,453.73 241.25,454.92 241.97,455.99 242.68,456.93 243.40,457.29 244.11,457.65 244.83,457.40 245.54,456.68 246.26,455.97 246.97,455.25 247.69,454.54 248.40,453.82 249.12,453.11 249.83,452.55 250.55,452.26 251.27,451.97 251.98,451.64 252.70,450.78 253.41,449.93 254.13,449.07 254.84,449.13 255.56,449.41 256.27,449.70 256.99,450.68 257.70,452.29 258.42,453.90 259.13,455.03 259.85,456.10 260.56,456.97 261.28,457.32 261.99,457.68 262.71,458.04 263.42,458.61 264.14,459.57 264.85,460.50 265.57,460.27 266.28,460.07 267.00,459.88 267.71,458.80 268.43,457.68 269.14,456.56 269.86,457.04 270.57,457.57 271.29,456.67 272.00,455.78 272.72,454.89 273.43,454.87 274.15,455.44 274.86,456.22 275.58,457.29 276.30,458.36 277.01,459.30 277.73,460.19 278.44,461.09 279.16,461.76 279.87,461.76 280.59,461.76 281.30,461.76 282.02,462.57 282.73,463.78 283.45,464.88 284.16,465.88 284.88,466.65 285.59,467.20 286.31,467.20 287.02,467.20 287.74,467.20 288.45,467.20 289.17,467.20 289.88,467.20 290.60,467.20 291.31,467.20 292.03,467.20 292.74,467.20 293.46,467.20 294.17,467.20 294.89,467.20 295.60,467.20 296.32,467.20 297.03,467.20 297.75,467.20 298.46,467.20 299.18,467.20 299.89,467.20 300.61,467.20 301.32,467.20 302.04,467.20 302.76,467.20 303.47,467.20 304.19,467.20 304.90,467.20 305.62,467.20 306.33,467.20 307.05,467.20 307.76,467.20 308.48,467.20 309.19,467.20 309.91,467.20 310.62,467.20 311.34,467.20 312.05,467.20 312.77,467.20 313.48,467.20 314.20,467.20 314.91,467.20 315.63,467.20 316.34,467.20 317.06,467.20 317.77,467.20 318.49,467.20 319.20,467.20 319.92,467.20 320.63,467.20 321.35,467.20 322.06,467.20 322.78,467.20 323.49,467.20 324.21,467.20 324.92,467.20 325.64,467.20 326.35,467.20 327.07,467.20 327.79,467.20 328.50,467.20 329.22,467.20 329.93,467.20 330.65,467.20 331.36,467.20 332.08,467.20 332.79,467.20 333.51,467.20 334.22,467.20 334.94,467.20 335.65,467.20 336.37,467.20 337.08,467.20 337.80,467.20 338.51,467.20 339.23,456.50 339.94,448.56 340.66,440.51 341.37,432.57 342.09,424.63 342.80,427.21 343.52,430.37 344.23,434.04 344.95,438.33 345.66,442.62 346.38,444.42 347.09,445.67 347.81,446.28 348.52,443.95 349.24,441.63 349.95,438.75 350.67,435.42 351.38,433.36 352.10,432.28 352.81,431.21 353.53,431.13 354.25,431.13 354.96,430.72 355.68,429.29 356.39,427.86 357.11,424.78 357.82,420.81 358.54,418.62 359.25,421.14 359.97,423.72 360.68,428.01 361.40,432.30 362.11,436.60 362.83,440.12 363.54,443.37 364.26,446.62 364.97,445.62 365.69,443.75 366.40,441.89 367.12,439.23 367.83,436.37 368.55,433.45 369.26,430.23 369.98,427.01 370.69,425.72 371.41,426.20 372.12,425.45 372.84,423.66 373.55,421.87 374.27,419.24 374.98,416.52 375.70,413.81 376.41,414.61 377.13,417.71 377.84,422.76 378.56,428.95 379.28,434.38 379.99,439.38 380.71,444.35 381.42,445.30 382.14,446.17 382.85,444.38 383.57,442.59 384.28,439.96 385.00,436.03 385.71,432.10 386.43,430.32 387.14,429.25 387.86,428.26 388.57,427.94 389.29,427.61 390.00,426.41 390.72,422.48 391.43,418.55 392.15,417.34 392.86,417.93 393.58,418.52 394.29,420.41 395.01,424.86 395.72,430.29 396.44,435.73 397.15,440.74 397.87,442.35 398.58,443.96 399.30,443.40 400.01,440.39 400.73,437.39 401.44,434.61 402.16,432.89 402.87,431.18 403.59,429.46 404.31,428.89 405.02,428.48 405.74,428.07 406.45,427.66 407.17,426.68 407.88,424.06 408.60,421.47 409.31,418.97 410.03,416.46 410.74,417.97 411.46,419.34 412.17,425.95 412.89,432.57 413.60,466.54 414.32,440.07 415.03,442.50 415.75,444.26 416.46,444.19 417.18,441.90 417.89,439.61 418.61,437.32 419.32,435.25 420.04,433.25 420.75,431.25 421.47,429.92 422.18,429.35 422.90,428.78 423.61,428.30 424.33,428.30 425.04,428.30 425.76,425.76 426.47,420.99 427.19,416.49 427.90,412.19 428.62,413.13 429.33,417.89 430.05,423.87 430.77,430.67 431.48,437.46 432.20,440.14 432.91,442.64 433.63,443.77 434.34,441.98 435.06,440.19 435.77,437.67 436.49,434.81 437.20,431.95 437.92,430.01 438.63,429.53 439.35,429.05 440.06,428.57 440.78,426.16 441.49,421.16 442.21,416.15 442.92,415.00 443.64,414.88 444.35,414.76 445.07,414.64 445.78,417.60 446.50,421.17 447.21,426.66 447.93,432.58 448.64,438.54 449.36,440.82 450.07,443.01 450.79,440.74 451.50,438.13 452.22,435.32 452.93,431.03 453.65,426.74 454.36,424.11 455.08,423.25 455.80,422.40 456.51,421.53 457.23,420.64 457.94,419.74 458.66,418.95 459.37,418.23 460.09,417.52 460.80,415.83 461.52,414.04 462.23,414.56 462.95,417.08 463.66,420.54 464.38,426.26 465.09,431.98 465.81,436.46 466.52,440.27 467.24,442.18 467.95,443.17 468.67,442.54 469.38,438.12 470.10,433.80 470.81,430.94 471.53,428.08 472.24,425.82 472.96,424.38 473.67,422.95 474.39,421.61 475.10,420.90 475.82,420.18 476.53,418.43 477.25,415.57 477.96,416.32 478.68,420.08 479.39,421.51 480.11,423.82 480.83,429.54 481.54,435.26 482.26,438.95 482.97,441.10 483.69,443.25 484.40,444.73 485.12,446.16 485.83,446.13 486.55,442.55 487.26,438.98 487.98,435.87 488.69,433.01 489.41,431.83 490.12,431.48 490.84,431.15 491.55,431.63 492.27,431.83 492.98,427.54 493.70,423.55 494.41,423.07 495.13,422.13 495.84,416.94 496.56,411.76 497.27,412.59 497.99,420.46 498.70,426.94 499.42,431.95 500.13,436.96 500.85,440.00 501.56,442.68 502.28,444.11 502.99,440.72 503.71,437.33 504.42,432.50 505.14,426.92 505.85,421.33 506.57,419.03 507.29,416.88 508.00,416.21 508.72,417.16 509.43,419.42 510.15,421.60 510.86,417.31 511.58,413.50 512.29,411.64 513.01,409.78 513.72,407.92 514.44,411.44 515.15,415.55 515.87,420.18 516.58,426.26 517.30,432.34 518.01,436.71 518.73,440.04 519.44,439.15 520.16,435.93 520.87,432.71 521.59,428.78 522.30,424.84 523.02,421.94 523.73,420.79 524.45,419.65 525.16,418.48 525.88,417.05 526.59,415.62 527.31,412.96 528.02,408.86 528.74,406.29 529.45,403.71 530.17,401.14 530.88,403.28 531.60,406.50 532.32,410.10 533.03,415.46 533.75,420.83 534.46,425.92 535.18,430.78 535.89,435.65 536.61,438.74 537.32,436.23 538.04,433.73 538.75,431.01 539.47,428.15 540.18,420.66 540.90,420.44 541.61,420.99 542.33,421.54 543.04,454.85 543.76,420.99 544.47,421.87 545.19,414.73 545.90,411.20 546.62,408.77 547.33,406.34 548.05,406.15 548.76,409.19 549.48,412.23 550.19,417.12 550.91,422.56 551.62,427.99 552.34,432.71 553.05,436.65 553.77,440.58 554.48,438.54 555.20,435.32 555.91,431.82 556.63,427.17 557.35,422.52 558.06,419.14 558.78,416.76 559.49,416.28 560.21,417.18 560.92,417.48 561.64,414.93 562.35,411.52 563.07,410.55 563.78,409.55 564.50,408.55 565.21,408.18 565.93,410.50 566.64,412.83 567.36,417.29 568.07,423.49 568.79,428.35 569.50,432.21 570.22,436.07 570.93,438.04 571.65,435.04 572.36,432.03 573.08,429.03 573.79,423.37 574.51,417.65 575.22,413.38 575.94,411.95 576.65,410.52 577.37,409.09 578.08,407.66 578.80,405.46 579.51,404.00 580.23,404.11 580.94,404.21 581.66,404.31 582.37,404.41 583.09,407.24 583.81,410.82 584.52,414.82 585.24,421.25 585.95,427.69 586.67,432.30 587.38,435.17 588.10,434.69 588.81,431.26 589.53,427.82 590.24,424.44 590.96,421.22 591.67,418.01 592.39,415.21 593.10,412.71 593.82,410.21 594.53,405.31 595.25,403.19 595.96,402.71 596.68,401.45 597.39,399.78 598.11,398.11 598.82,396.44 599.54,398.20 600.25,401.41 600.97,404.87 601.68,412.03 602.40,419.18 603.11,425.27 603.83,429.92 604.54,434.57 605.26,432.65 605.97,428.93 606.69,425.21 607.40,421.63 608.12,418.20 608.84,414.77 609.55,411.62 610.27,409.71 610.98,407.81 611.70,405.90"/>
<circle cx="282.02" cy="462.57" r="2.85" fill="none" stroke="#ff0000" stroke-width="1.5"/>
<circle cx="282.73" cy="463.78" r="2.85" fill="none" stroke="#ff0000" stroke-width="1.5"/>
<circle cx="283.45" cy="464.88" r="2.85" fill="none" stroke="#ff0000" stroke-width="1.5"/>
<circle cx="284.16" cy="465.88" r="2.85" fill="none" stroke="#ff0000" stroke-width="1.5"/>
<circle cx="284.88" cy="466.65" r="2.85" fill="none" stroke="#ff0000" stroke-width="1.5"/>
<circle cx="285.59" cy="467.20" r="2.85" fill="none" stroke="#ff0000" stroke-width="1.5"/>
<circle cx="286.31" cy="467.20" r="2.85" fill="none" stroke="#ff0000" stroke-width="1.5"/>
<circle cx="287.02" cy="467.20" r="2.85" fill="none" stroke="#ff0000" stroke-width="1.5"/>
<circle cx="287.74" cy="467.20" r="2.85" fill="none" stroke="#ff0000" stroke-width="1.5"/>
<circle cx="288.45" cy="467.20" r="2.85" fill="none" stroke="#ff0000" stroke-width="1.5"/>
<circle cx="289.17" cy="467.20" r="2.85" fill="none" stroke="#ff0000" stroke-width="1.5"/>
<circle cx="289.88" cy="467.20" r="2.85" fill="none" stroke="#ff0000" stroke-width="1.5"/>
<circle cx="290.60" cy="467.20" r="2.85" fill="none" stroke="#ff0000" stroke-width="1.5"/>
<circle cx="291.31" cy="467.20" r="2.85" fill="none" stroke="#ff0000" stroke-width="1.5"/>
<circle cx="292.03" cy="467.20" r="2.85" fill="none" stroke="#ff0000" stroke-width="1.5"/>
<circle cx="292.74" cy="467.20" r="2.85" fill="none" stroke="#ff0000" stroke-width="1.5"/>
<circle cx="293.46" cy="467.20" r="2.85" fill="none" stroke="#ff0000" stroke-width="1.5"/>
<circle cx="294.17" cy="467.20" r="2.85" fill="none" stroke="#ff0000" stroke-width="1.5"/>
<circle cx="294.89" cy="467.20" r="2.85" fill="none" stroke="#ff0000" stroke-width="1.5"/>
<circle cx="295.60" cy="467.20" r="2.85" fill="none" stroke="#ff0000" stroke-width="1.5"/>
<circle cx="296.32" cy="467.20" r="2.85" fill="none" stroke="#ff0000" stroke-width="1.5"/>
<circle cx="297.03" cy="467.20" r="2.85" fill="none" stroke="#ff0000" stroke-width="1.5"/>
<circle cx="297.75" cy="467.20" r="2.85" fill="none" stroke="#ff0000" stroke-width="1.5"/>
<circle cx="298.46" cy="467.20" r="2.85" fill="none" stroke="#ff0000" stroke-width="1.5"/>
<circle cx="299.18" cy="467.20" r="2.85" fill="none" stroke="#ff0000" stroke-width="1.5"/>
<circle cx="299.89" cy="467.20" r="2.85" fill="none" stroke="#ff0000" stroke-width="1.5"/>
<circle cx="300.61" cy="467.20" r="2.85" fill="none" stroke="#ff0000" stroke-width="1.5"/>
<circle cx="301.32" cy="467.20" r="2.85" fill="none" stroke="#ff0000" stroke-width="1.5"/>
<circle cx="302.04" cy="467.20" r="2.85" fill="none" stroke="#ff0000" stroke-width="1.5"/>
<circle cx="302.76" cy="467.20" r="2.85" fill="none" stroke="#ff0000" stroke-width="1.5"/>
<circle cx="303.47" cy="467.20" r="2.85" fill="none" stroke="#ff0000" stroke-width="1.5"/>
<circle cx="304.19" cy="467.20" r="2.85" fill="none" stroke="#ff0000" stroke-width="1.5"/>
<circle cx="304.90" cy="467.20" r="2.85" fill="none" stroke="#ff0000" stroke-width="1.5"/>
<circle cx="305.62" cy="467.20" r="2.85" fill="none" stroke="#ff0000" stroke-width="1.5"/>
<circle cx="306.33" cy="467.20" r="2.85" fill="none" stroke="#ff0000" stroke-width="1.5"/>
<circle cx="307.05" cy="467.20" r="2.85" fill="none" stroke="#ff0000" stroke-width="1.5"/>
<circle cx="307.76" cy="467.20" r="2.85" fill="none" stroke="#ff0000" stroke-width="1.5"/>
<circle cx="308.48" cy="467.20" r="2.85" fill="none" stroke="#ff0000" stroke-width="1.5"/>
<circle cx="309.19" cy="467.20" r="2.85" fill="none" stroke="#ff0000" stroke-width="1.5"/>
<circle cx="309.91" cy="467.20" r="2.85" fill="none" stroke="#ff0000" stroke-width="1.5"/>
<circle cx="310.62" cy="467.20" r="2.85" fill="none" stroke="#ff0000" stroke-width="1.5"/>
<circle cx="311.34" cy="467.20" r="2.85" fill="none" stroke="#ff0000" stroke-width="1.5"/>
<circle cx="312.05" cy="467.20" r="2.85" fill="none" stroke="#ff0000" stroke-width="1.5"/>
<circle cx="312.77" cy="467.20" r="2.85" fill="none" stroke="#ff0000" stroke-width="1.5"/>
<circle cx="313.48" cy="467.20" r="2.85" fill="none" stroke="#ff0000" stroke-width="1.5"/>
<circle cx="314.20" cy="467.20" r="2.85" fill="none" stroke="#ff0000" stroke-width="1.5"/>
<circle cx="314.91" cy="467.20" r="2.85" fill="none" stroke="#ff0000" stroke-width="1.5"/>
<circle cx="315.63" cy="467.20" r="2.85" fill="none" stroke="#ff0000" stroke-width="1.5"/>
<circle cx="316.34" cy="467.20" r="2.85" fill="none" stroke="#ff0000" stroke-width="1.5"/>
<circle cx="317.06" cy="467.20" r="2.85" fill="none" stroke="#ff0000" stroke-width="1.5"/>
<circle cx="317.77" cy="467.20" r="2.85" fill="none" stroke="#ff0000" stroke-width="1.5"/>
<circle cx="318.49" cy="467.20" r="2.85" fill="none" stroke="#ff0000" stroke-width="1.5"/>
<circle cx="319.20" cy="467.20" r="2.85" fill="none" stroke="#ff0000" stroke-width="1.5"/>
<circle cx="319.92" cy="467.20" r="2.85" fill="none" stroke="#ff0000" stroke-width="1.5"/>
<circle cx="320.63" cy="467.20" r="2.85" fill="none" stroke="#ff0000" stroke-width="1.5"/>
<circle cx="321.35" cy="467.20" r="2.85" fill="none" stroke="#ff0000" stroke-width="1.5"/>
<circle cx="322.06" cy="467.20" r="2.85" fill="none" stroke="#ff0000" stroke-width="1.5"/>
<circle cx="322.78" cy="467.20" r="2.85" fill="none" stroke="#ff0000" stroke-width="1.5"/>
<circle cx="323.49" cy="467.20" r="2.85" fill="none" stroke="#ff0000" stroke-width="1.5"/>
<circle cx="324.21" cy="467.20" r="2.85" fill="none" stroke="#ff0000" stroke-width="1.5"/>
<circle cx="324.92" cy="467.20" r="2.85" fill="none" stroke="#ff0000" stroke-width="1.5"/>
<circle cx="325.64" cy="467.20" r="2.85" fill="none" stroke="#ff0000" stroke-width="1.5"/>
<circle cx="326.35" cy="467.20" r="2.85" fill="none" stroke="#ff0000" stroke-width="1.5"/>
<circle cx="327.07" cy="467.20" r="2.85" fill="none" stroke="#ff0000" stroke-width="1.5"/>
<circle cx="327.79" cy="467.20" r="2.85" fill="none" stroke="#ff0000" stroke-width="1.5"/>
<circle cx="328.50" cy="467.20" r="2.85" fill="none" stroke="#ff0000" stroke-width="1.5"/>
<circle cx="329.22" cy="467.20" r="2.85" fill="none" stroke="#ff0000" stroke-width="1.5"/>
<circle cx="329.93" cy="467.20" r="2.85" fill="none" stroke="#ff0000" stroke-width="1.5"/>
<circle cx="330.65" cy="467.20" r="2.85" fill="none" stroke="#ff0000" stroke-width="1.5"/>
<circle cx="331.36" cy="467.20" r="2.85" fill="none" stroke="#ff0000" stroke-width="1.5"/>
<circle cx="332.08" cy="467.20" r="2.85" fill="none" stroke="#ff0000" stroke-width="1.5"/>
<circle cx="332.79" cy="467.20" r="2.85" fill="none" stroke="#ff0000" stroke-width="1.5"/>
<circle cx="333.51" cy="467.20" r="2.85" fill="none" stroke="#ff0000" stroke-width="1.5"/>
<circle cx="334.22" cy="467.20" r="2.85" fill="none" stroke="#ff0000" stroke-width="1.5"/>
<circle cx="334.94" cy="467.20" r="2.85" fill="none" stroke="#ff0000" stroke-width="1.5"/>
<circle cx="335.65" cy="467.20" r="2.85" fill="none" stroke="#ff0000" stroke-width="1.5"/>
<circle cx="336.37" cy="467.20" r="2.85" fill="none" stroke="#ff0000" stroke-width="1.5"/>
<circle cx="337.08" cy="467.20" r="2.85" fill="none" stroke="#ff0000" stroke-width="1.5"/>
<circle cx="337.80" cy="467.20" r="2.85" fill="none" stroke="#ff0000" stroke-width="1.5"/>
<circle cx="338.51" cy="467.20" r="2.85" fill="none" stroke="#ff0000" stroke-width="1.5"/>
<circle cx="413.60" cy="466.54" r="2.85" fill="none" stroke="#ff0000" stroke-width="1.5"/>
<circle cx="543.04" cy="454.85" r="2.85" fill="none" stroke="#ff0000" stroke-width="1.5"/>
<rect x="71.80" y="392.46" width="565.60" height="77.95" fill="none" stroke="#111" stroke-width="1.45"/>
<line x1="67.90" y1="467.20" x2="71.80" y2="467.20" stroke="#000" stroke-width="1.15"/>
<text x="63.40" y="471.50" text-anchor="end" textLength="6.90" lengthAdjust="spacingAndGlyphs" class="tk">0</text>
<line x1="67.90" y1="424.85" x2="71.80" y2="424.85" stroke="#000" stroke-width="1.15"/>
<text x="63.40" y="429.15" text-anchor="end" textLength="36.00" lengthAdjust="spacingAndGlyphs" class="tk">20000</text>
<line x1="97.51" y1="470.41" x2="97.51" y2="474.31" stroke="#000" stroke-width="1.15"/>
<text x="97.51" y="487.11" text-anchor="middle" textLength="6.90" lengthAdjust="spacingAndGlyphs" class="tk">0</text>
<line x1="169.02" y1="470.41" x2="169.02" y2="474.31" stroke="#000" stroke-width="1.15"/>
<text x="169.02" y="487.11" text-anchor="middle" textLength="21.00" lengthAdjust="spacingAndGlyphs" class="tk">100</text>
<line x1="240.54" y1="470.41" x2="240.54" y2="474.31" stroke="#000" stroke-width="1.15"/>
<text x="240.54" y="487.11" text-anchor="middle" textLength="21.20" lengthAdjust="spacingAndGlyphs" class="tk">200</text>
<line x1="312.05" y1="470.41" x2="312.05" y2="474.31" stroke="#000" stroke-width="1.15"/>
<text x="312.05" y="487.11" text-anchor="middle" textLength="21.00" lengthAdjust="spacingAndGlyphs" class="tk">300</text>
<line x1="383.57" y1="470.41" x2="383.57" y2="474.31" stroke="#000" stroke-width="1.15"/>
<text x="383.57" y="487.11" text-anchor="middle" textLength="21.00" lengthAdjust="spacingAndGlyphs" class="tk">400</text>
<line x1="455.08" y1="470.41" x2="455.08" y2="474.31" stroke="#000" stroke-width="1.15"/>
<text x="455.08" y="487.11" text-anchor="middle" textLength="21.00" lengthAdjust="spacingAndGlyphs" class="tk">500</text>
<line x1="526.59" y1="470.41" x2="526.59" y2="474.31" stroke="#000" stroke-width="1.15"/>
<text x="526.59" y="487.11" text-anchor="middle" textLength="21.00" lengthAdjust="spacingAndGlyphs" class="tk">600</text>
<line x1="598.11" y1="470.41" x2="598.11" y2="474.31" stroke="#000" stroke-width="1.15"/>
<text x="598.11" y="487.11" text-anchor="middle" textLength="21.00" lengthAdjust="spacingAndGlyphs" class="tk">700</text>
<text x="354.60" y="503.31" text-anchor="middle" textLength="61.00" lengthAdjust="spacingAndGlyphs">time index</text>
<g transform="translate(20.10,431.44) rotate(-90)"><text x="0.00" y="0.00" text-anchor="middle" textLength="50.93" lengthAdjust="spacingAndGlyphs">Cropping</text></g>
<rect x="77.4" y="398.35" width="122.5" height="20.6" rx="2.3" fill="#fff" fill-opacity="0.8" stroke="#d6d6d6" stroke-width="1"/>
<circle cx="93.8" cy="407.85" r="2.9" fill="none" stroke="#ff0000" stroke-width="1.25"/>
<text x="114.20" y="411.90" text-anchor="start" textLength="80.80" lengthAdjust="spacingAndGlyphs">True Anomaly</text>
<polyline fill="none" stroke="#1f77b4" stroke-width="1.85" stroke-linejoin="round" stroke-linecap="square" points="97.51,597.50 97.87,567.10 98.22,565.10 98.58,563.10 98.94,561.30 99.30,559.50 99.65,557.70 100.01,560.51 100.37,563.33 100.73,566.14 101.08,568.95 101.44,571.76 101.80,574.58 102.16,577.39 102.51,580.20 102.87,577.92 103.23,575.64 103.58,573.36 103.94,571.08 104.30,568.80 104.66,568.33 105.01,567.85 105.37,567.38 105.73,566.90 106.09,566.42 106.44,565.95 106.80,563.80 107.16,561.65 107.51,559.50 107.87,557.35 108.23,555.20 108.59,558.33 108.94,561.45 109.30,564.58 109.66,567.70 110.02,570.83 110.37,573.95 110.73,577.08 111.09,580.20 111.45,578.15 111.80,576.10 112.16,574.04 112.52,571.99 112.87,569.94 113.23,569.51 113.59,569.09 113.95,568.66 114.30,568.23 114.66,567.80 115.02,567.38 115.38,565.44 115.73,563.50 116.09,561.57 116.45,559.63 116.81,557.70 117.16,560.56 117.52,563.42 117.88,566.29 118.23,569.15 118.59,572.01 118.95,574.88 119.31,577.74 119.66,580.60 120.02,578.32 120.38,576.04 120.74,573.76 121.09,571.48 121.45,569.20 121.81,568.73 122.17,568.25 122.52,567.77 122.88,567.30 123.24,566.83 123.59,566.35 123.95,564.20 124.31,562.05 124.67,559.90 125.02,557.75 125.38,555.60 125.74,558.84 126.10,562.08 126.45,565.31 126.81,568.55 127.17,571.79 127.52,575.02 127.88,578.26 128.24,581.50 128.60,579.73 128.95,577.96 129.31,576.19 129.67,574.42 130.03,572.65 130.38,572.28 130.74,571.92 131.10,571.55 131.46,571.18 131.81,570.81 132.17,570.44 132.53,568.77 132.88,567.11 133.24,565.44 133.60,563.77 133.96,562.10 134.31,564.60 134.67,567.10 135.03,569.60 135.39,572.10 135.74,574.60 136.10,577.10 136.46,579.60 136.82,582.10 137.17,580.48 137.53,578.86 137.89,577.24 138.24,575.62 138.60,574.01 138.96,573.67 139.32,573.33 139.67,572.99 140.03,572.66 140.39,572.32 140.75,571.98 141.10,570.46 141.46,568.93 141.82,567.40 142.18,565.88 142.53,564.35 142.89,566.49 143.25,568.64 143.60,570.78 143.96,572.92 144.32,575.07 144.68,577.21 145.03,579.36 145.39,581.50 145.75,579.48 146.11,577.46 146.46,575.44 146.82,573.42 147.18,571.40 147.53,570.98 147.89,570.56 148.25,570.14 148.61,569.72 148.96,569.30 149.32,568.87 149.68,566.97 150.04,565.06 150.39,563.16 150.75,561.25 151.11,559.35 151.47,562.12 151.82,564.89 152.18,567.66 152.54,570.42 152.89,573.19 153.25,575.96 153.61,578.73 153.97,581.50 154.32,579.14 154.68,576.78 155.04,574.41 155.40,572.05 155.75,569.69 156.11,569.20 156.47,568.71 156.83,568.21 157.18,567.72 157.54,567.23 157.90,566.74 158.25,564.51 158.61,562.28 158.97,560.05 159.33,557.83 159.68,555.60 160.04,558.84 160.40,562.08 160.76,565.31 161.11,568.55 161.47,571.79 161.83,575.02 162.18,578.26 162.54,581.50 162.90,579.33 163.26,577.16 163.61,574.99 163.97,572.82 164.33,570.65 164.69,570.20 165.04,569.74 165.40,569.29 165.76,568.84 166.12,568.39 166.47,567.93 166.83,565.89 167.19,563.84 167.54,561.79 167.90,559.75 168.26,557.70 168.62,560.44 168.97,563.17 169.33,565.91 169.69,568.65 170.05,571.39 170.40,574.12 170.76,576.86 171.12,579.60 171.48,577.37 171.83,575.15 172.19,572.92 172.55,570.70 172.90,568.47 173.26,568.01 173.62,567.55 173.98,567.08 174.33,566.62 174.69,566.16 175.05,565.69 175.41,563.59 175.76,561.50 176.12,559.40 176.48,557.30 176.84,555.20 177.19,558.41 177.55,561.61 177.91,564.82 178.26,568.02 178.62,571.23 178.98,574.44 179.34,577.64 179.69,580.85 180.05,578.91 180.41,576.97 180.77,575.04 181.12,573.10 181.48,571.16 181.84,570.76 182.19,570.35 182.55,569.95 182.91,569.54 183.27,569.14 183.62,568.74 183.98,566.91 184.34,565.08 184.70,563.25 185.05,561.43 185.41,559.60 185.77,562.02 186.13,564.45 186.48,566.88 186.84,569.30 187.20,571.73 187.55,574.15 187.91,576.58 188.27,579.00 188.63,577.46 188.98,575.92 189.34,574.38 189.70,572.83 190.06,571.29 190.41,570.97 190.77,570.65 191.13,570.33 191.49,570.01 191.84,569.69 192.20,569.37 192.56,567.91 192.91,566.46 193.27,565.01 193.63,563.55 193.99,562.10 194.34,564.60 194.70,567.10 195.06,569.60 195.42,572.10 195.77,574.60 196.13,577.10 196.49,579.60 196.84,582.10 197.20,580.16 197.56,578.22 197.92,576.29 198.27,574.35 198.63,572.41 198.99,572.01 199.35,571.60 199.70,571.20 200.06,570.79 200.42,570.39 200.78,569.99 201.13,568.16 201.49,566.33 201.85,564.50 202.20,562.68 202.56,560.85 202.92,563.43 203.28,566.01 203.63,568.59 203.99,571.17 204.35,573.76 204.71,576.34 205.06,578.92 205.42,581.50 205.78,579.05 206.14,576.59 206.49,574.14 206.85,571.69 207.21,569.23 207.56,568.72 207.92,568.21 208.28,567.70 208.64,567.19 208.99,566.68 209.35,566.17 209.71,563.85 210.07,561.54 210.42,559.23 210.78,556.91 211.14,554.60 211.50,557.65 211.85,560.70 212.21,563.75 212.57,566.80 212.92,569.85 213.28,572.90 213.64,575.95 214.00,579.00 214.35,576.77 214.71,574.55 215.07,572.32 215.43,570.10 215.78,567.87 216.14,567.41 216.50,566.95 216.85,566.48 217.21,566.02 217.57,565.56 217.93,565.09 218.28,562.99 218.64,560.90 219.00,558.80 219.36,556.70 219.71,554.60 220.07,557.73 220.43,560.85 220.79,563.98 221.14,567.10 221.50,570.23 221.86,573.35 222.21,576.48 222.57,579.60 222.93,577.60 223.29,575.61 223.64,573.61 224.00,571.61 224.36,569.61 224.72,569.20 225.07,568.78 225.43,566.70 225.79,585.85 226.15,567.00 226.50,567.12 226.86,565.23 227.22,563.35 227.57,561.47 227.93,559.58 228.29,557.70 228.65,560.59 229.00,563.49 229.36,566.38 229.72,569.27 230.08,572.17 230.43,575.06 230.79,577.96 231.15,580.85 231.50,578.63 231.86,576.41 232.22,574.19 232.58,571.97 232.93,569.75 233.29,569.28 233.65,568.82 234.01,568.36 234.36,567.90 234.72,567.43 235.08,566.97 235.44,564.88 235.79,562.78 236.15,560.69 236.51,558.59 236.86,556.50 237.22,559.31 237.58,562.12 237.94,564.94 238.29,567.75 238.65,570.56 239.01,573.38 239.37,576.19 239.72,579.00 240.08,577.29 240.44,575.57 240.80,573.86 241.15,572.14 241.51,570.43 241.87,570.07 242.22,569.71 242.58,569.36 242.94,569.00 243.30,568.64 243.65,568.28 244.01,566.67 244.37,565.05 244.73,563.43 245.08,561.82 245.44,560.20 245.80,562.78 246.16,565.36 246.51,567.94 246.87,570.52 247.23,573.11 247.58,575.69 247.94,578.27 248.30,580.85 248.66,579.25 249.01,577.66 249.37,576.06 249.73,574.47 250.09,572.87 250.44,572.54 250.80,572.21 251.16,571.87 251.51,571.54 251.87,571.21 252.23,570.88 252.59,569.37 252.94,567.87 253.30,566.36 253.66,564.86 254.02,563.35 254.37,565.54 254.73,567.73 255.09,569.91 255.45,572.10 255.80,574.29 256.16,576.48 256.52,578.66 256.87,580.85 257.23,579.19 257.59,577.54 257.95,575.88 258.30,574.23 258.66,572.57 259.02,572.23 259.38,571.88 259.73,571.54 260.09,571.19 260.45,570.85 260.81,570.50 261.16,568.94 261.52,567.38 261.88,565.82 262.23,564.26 262.59,562.70 262.95,565.05 263.31,567.40 263.66,569.75 264.02,572.10 264.38,574.45 264.74,576.80 265.09,579.15 265.45,581.50 265.81,579.45 266.17,577.40 266.52,575.34 266.88,573.29 267.24,571.24 267.59,570.81 267.95,570.38 268.31,569.96 268.67,569.53 269.02,569.10 269.38,568.67 269.74,566.74 270.10,564.80 270.45,562.87 270.81,560.93 271.17,559.00 271.52,561.89 271.88,564.77 272.24,567.66 272.60,570.55 272.95,573.44 273.31,576.33 273.67,579.21 274.03,582.10 274.38,579.65 274.74,577.19 275.10,574.74 275.46,572.29 275.81,569.83 276.17,569.32 276.53,568.81 276.88,568.30 277.24,567.79 277.60,567.28 277.96,566.77 278.31,564.45 278.67,562.14 279.03,559.83 279.39,557.51 279.74,555.20 280.10,558.49 280.46,561.77 280.82,565.06 281.17,568.35 281.53,571.64 281.89,574.92 282.24,578.21 282.60,581.50 282.96,578.99 283.32,576.48 283.67,573.98 284.03,571.47 284.39,568.96 284.75,568.44 285.10,567.91 285.46,567.39 285.82,566.87 286.17,566.35 286.53,565.83 286.89,563.46 287.25,561.10 287.60,558.73 287.96,556.37 288.32,554.00 288.68,557.51 289.03,561.02 289.39,564.54 289.75,568.05 290.11,571.56 290.46,575.08 290.82,578.59 291.18,582.10 291.53,580.50 291.89,578.91 292.25,577.31 292.61,575.72 292.96,574.12 293.32,573.79 293.68,573.46 294.04,573.12 294.39,572.79 294.75,572.46 295.11,572.12 295.47,570.62 295.82,569.12 296.18,567.61 296.54,566.11 296.89,564.60 297.25,566.94 297.61,569.29 297.97,571.63 298.32,573.98 298.68,576.32 299.04,578.66 299.40,581.01 299.75,583.35 300.11,581.92 300.47,580.50 300.83,579.07 301.18,577.64 301.54,576.21 301.90,575.92 302.25,575.62 302.61,575.32 302.97,575.02 303.33,574.73 303.68,574.43 304.04,573.08 304.40,571.74 304.76,570.39 305.11,569.05 305.47,567.70 305.83,570.05 306.18,572.40 306.54,574.75 306.90,577.10 307.26,579.45 307.61,581.80 307.97,584.15 308.33,586.50 308.69,585.76 309.04,585.01 309.40,584.27 309.76,583.53 310.12,582.78 310.47,582.63 310.83,582.47 311.19,582.32 311.54,582.16 311.90,582.01 312.26,581.85 312.62,581.15 312.97,580.45 313.33,579.75 313.69,579.05 314.05,578.35 314.40,579.44 314.76,580.54 315.12,581.63 315.48,582.73 315.83,583.82 316.19,584.91 316.55,586.01 316.90,587.10 317.26,586.36 317.62,585.62 317.98,584.88 318.33,584.15 318.69,583.41 319.05,583.25 319.41,583.10 319.76,582.94 320.12,582.79 320.48,580.04 320.84,579.95 321.19,579.85 321.55,579.76 321.91,579.67 322.26,579.58 322.62,580.70 322.98,581.87 323.34,583.03 323.69,584.20 324.05,585.37 324.41,586.53 324.77,587.70 325.12,588.45 325.48,588.29 325.84,588.13 326.19,587.68 326.55,586.38 326.91,585.08 327.27,583.95 327.62,583.52 327.98,583.09 328.34,582.66 328.70,582.22 329.05,581.38 329.41,580.27 329.77,579.16 330.13,578.05 330.48,576.93 330.84,576.34 331.20,577.32 331.55,578.29 331.91,579.40 332.27,581.08 332.63,582.77 332.98,584.46 333.34,585.62 333.70,585.88 334.06,586.14 334.41,586.40 334.77,585.89 335.13,584.72 335.49,583.55 335.84,582.38 336.20,581.65 336.56,581.10 336.91,580.54 337.27,579.99 337.63,579.43 337.99,578.69 338.34,577.61 338.70,576.52 339.06,575.44 339.42,574.36 339.77,575.52 340.13,577.33 340.49,579.15 340.84,580.97 341.20,582.19 341.56,583.38 341.92,584.56 342.27,585.75 342.63,586.20 342.99,585.31 343.35,584.42 343.70,583.52 344.06,582.63 344.42,581.74 344.78,581.12 345.13,581.38 345.49,581.64 345.85,581.90 346.20,581.17 346.56,579.03 346.92,576.90 347.28,575.19 347.63,574.55 347.99,573.90 348.35,574.91 348.71,575.93 349.06,578.06 349.42,580.65 349.78,581.83 350.14,582.51 350.49,583.67 350.85,584.37 351.21,584.53 351.56,584.32 351.92,583.31 352.28,582.31 352.64,581.92 352.99,581.62 353.35,581.53 353.71,581.74 354.07,581.96 354.42,582.18 354.78,582.81 355.14,578.70 355.50,579.51 355.85,580.33 356.21,580.11 356.57,580.53 356.92,581.18 357.28,582.50 357.64,584.01 358.00,584.10 358.35,583.67 358.71,581.59 359.07,581.35 359.43,586.21 359.78,587.62 360.14,588.39 360.50,587.74 360.85,587.09 361.21,586.55 361.57,586.06 361.93,585.59 362.28,587.09 362.64,587.47 363.00,585.31 363.36,584.06 363.71,583.16 364.07,582.25 364.43,581.90 364.79,582.23 365.14,582.55 365.50,583.28 365.86,584.09 366.21,584.97 366.57,586.11 366.93,587.24 367.29,587.99 367.64,588.48 368.00,588.97 368.36,588.73 368.72,588.47 369.07,588.21 369.43,587.53 369.79,586.66 370.15,585.64 370.50,584.56 370.86,584.43 371.22,584.59 371.57,584.62 371.93,583.84 372.29,583.06 372.65,582.28 373.00,581.57 373.36,580.86 373.72,580.16 374.08,580.71 374.43,581.47 374.79,584.05 375.15,587.73 375.50,595.85 375.86,588.26 376.22,587.83 376.58,587.40 376.93,587.91 377.29,587.53 377.65,586.72 378.01,585.95 378.36,585.52 378.72,585.09 379.08,584.65 379.44,584.26 379.79,584.00 380.15,583.74 380.51,583.48 380.86,582.27 381.22,581.69 381.58,581.58 381.94,581.47 382.29,581.37 382.65,581.50 383.01,581.75 383.37,583.60 383.72,585.51 384.08,586.60 384.44,587.42 384.80,588.17 385.15,588.49 385.51,588.82 385.87,588.59 386.22,587.81 386.58,587.03 386.94,586.33 387.30,585.90 387.65,585.47 388.01,585.04 388.37,584.60 388.73,584.17 389.08,583.74 389.44,583.31 389.80,582.68 390.16,581.71 390.51,580.74 390.87,581.28 391.23,582.36 391.58,583.77 391.94,585.29 392.30,586.36 392.66,587.34 393.01,588.19 393.37,588.51 393.73,588.84 394.09,588.61 394.44,587.96 394.80,587.32 395.16,586.67 395.51,586.02 395.87,585.37 396.23,584.72 396.59,584.21 396.94,583.95 397.30,583.69 397.66,583.39 398.02,582.61 398.37,581.84 398.73,581.06 399.09,581.11 399.45,581.37 399.80,581.63 400.16,582.52 400.52,583.98 400.87,585.44 401.23,586.46 401.59,587.43 401.95,588.22 402.30,588.55 402.66,588.87 403.02,589.19 403.38,589.71 403.73,590.58 404.09,591.42 404.45,591.22 404.81,591.03 405.16,590.87 405.52,589.89 405.88,588.87 406.23,587.85 406.59,588.29 406.95,588.77 407.31,587.96 407.66,587.15 408.02,586.34 408.38,586.32 408.74,586.84 409.09,587.54 409.45,588.51 409.81,589.49 410.17,590.33 410.52,591.14 410.88,591.96 411.24,592.57 411.59,592.57 411.95,592.57 412.31,592.57 412.67,593.30 413.02,594.40 413.38,595.40 413.74,596.30 414.10,597.00 414.45,597.50 414.81,597.50 415.17,597.50 415.52,597.50 415.88,597.50 416.24,597.50 416.60,597.50 416.95,597.50 417.31,597.50 417.67,597.50 418.03,597.50 418.38,597.50 418.74,597.50 419.10,597.50 419.46,597.50 419.81,597.50 420.17,597.50 420.53,597.50 420.88,597.50 421.24,597.50 421.60,597.50 421.96,597.50 422.31,597.50 422.67,597.50 423.03,597.50 423.39,597.50 423.74,597.50 424.10,597.50 424.46,597.50 424.82,597.50 425.17,597.50 425.53,597.50 425.89,597.50 426.24,597.50 426.60,597.50 426.96,597.50 427.32,597.50 427.67,597.50 428.03,597.50 428.39,597.50 428.75,597.50 429.10,597.50 429.46,597.50 429.82,597.50 430.17,597.50 430.53,597.50 430.89,597.50 431.25,597.50 431.60,597.50 431.96,597.50 432.32,597.50 432.68,597.50 433.03,597.50 433.39,597.50 433.75,597.50 434.11,597.50 434.46,597.50 434.82,597.50 435.18,597.50 435.53,597.50 435.89,597.50 436.25,597.50 436.61,597.50 436.96,597.50 437.32,597.50 437.68,597.50 438.04,597.50 438.39,597.50 438.75,597.50 439.11,597.50 439.47,597.50 439.82,597.50 440.18,597.50 440.54,597.50 440.89,597.50 441.25,587.80 441.61,580.60 441.97,573.30 442.32,566.10 442.68,558.90 443.04,561.24 443.40,564.10 443.75,567.43 444.11,571.32 444.47,575.22 444.83,576.85 445.18,577.98 445.54,578.53 445.90,576.42 446.25,574.31 446.61,571.71 446.97,568.68 447.33,566.81 447.68,565.84 448.04,564.87 448.40,564.80 448.76,564.80 449.11,564.42 449.47,563.13 449.83,561.83 450.18,559.04 450.54,555.43 450.90,553.45 451.26,555.74 451.61,558.08 451.97,561.97 452.33,565.86 452.69,569.75 453.04,572.95 453.40,575.90 453.76,578.84 454.12,577.93 454.47,576.24 454.83,574.55 455.19,572.14 455.54,569.54 455.90,566.90 456.26,563.98 456.62,561.06 456.97,559.89 457.33,560.32 457.69,559.64 458.05,558.02 458.40,556.40 458.76,554.01 459.12,551.55 459.48,549.09 459.83,549.82 460.19,552.63 460.55,557.20 460.90,562.82 461.26,567.74 461.62,572.28 461.98,576.78 462.33,577.65 462.69,578.43 463.05,576.81 463.41,575.19 463.76,572.80 464.12,569.24 464.48,565.67 464.83,564.06 465.19,563.09 465.55,562.20 465.91,561.90 466.26,561.60 466.62,560.52 466.98,556.95 467.34,553.38 467.69,552.29 468.05,552.82 468.41,553.36 468.77,555.07 469.12,559.10 469.48,564.03 469.84,568.96 470.19,573.51 470.55,574.97 470.91,576.43 471.27,575.92 471.62,573.19 471.98,570.47 472.34,567.95 472.70,566.39 473.05,564.84 473.41,563.28 473.77,562.76 474.13,562.39 474.48,562.02 474.84,561.65 475.20,560.76 475.55,558.38 475.91,556.04 476.27,553.77 476.63,551.50 476.98,552.86 477.34,554.10 477.70,560.10 478.06,566.10 478.41,596.90 478.77,572.90 479.13,575.10 479.49,576.70 479.84,576.63 480.20,574.56 480.56,572.48 480.91,570.41 481.27,568.53 481.63,566.72 481.99,564.90 482.34,563.70 482.70,563.18 483.06,562.66 483.42,562.23 483.77,562.23 484.13,562.23 484.49,559.92 484.84,555.60 485.20,551.52 485.56,547.62 485.92,548.47 486.27,552.79 486.63,558.21 486.99,564.37 487.35,570.53 487.70,572.96 488.06,575.23 488.42,576.25 488.78,574.63 489.13,573.01 489.49,570.72 489.85,568.13 490.20,565.54 490.56,563.77 490.92,563.34 491.28,562.91 491.63,562.48 491.99,560.29 492.35,555.75 492.71,551.21 493.06,550.17 493.42,550.06 493.78,549.95 494.14,549.84 494.49,552.52 494.85,555.76 495.21,560.74 495.56,566.11 495.92,571.51 496.28,573.58 496.64,575.57 496.99,573.50 497.35,571.14 497.71,568.60 498.07,564.71 498.42,560.82 498.78,558.43 499.14,557.65 499.50,556.88 499.85,556.09 500.21,555.28 500.57,554.47 500.92,553.75 501.28,553.10 501.64,552.45 502.00,550.92 502.35,549.30 502.71,549.77 503.07,552.06 503.43,555.19 503.78,560.38 504.14,565.57 504.50,569.62 504.85,573.08 505.21,574.81 505.57,575.71 505.93,575.14 506.28,571.14 506.64,567.21 507.00,564.62 507.36,562.02 507.71,559.98 508.07,558.68 508.43,557.38 508.79,556.16 509.14,555.51 509.50,554.87 509.86,553.28 510.21,550.68 510.57,551.36 510.93,554.77 511.29,556.07 511.64,558.17 512.00,563.36 512.36,568.54 512.72,571.89 513.07,573.83 513.43,575.78 513.79,577.12 514.15,578.42 514.50,578.39 514.86,575.15 515.22,571.91 515.57,569.09 515.93,566.50 516.29,565.43 516.65,565.11 517.00,564.81 517.36,565.24 517.72,565.43 518.08,561.54 518.43,557.92 518.79,557.49 519.15,556.63 519.50,551.93 519.86,547.23 520.22,547.98 520.58,555.12 520.93,561.00 521.29,565.54 521.65,570.08 522.01,572.84 522.36,575.27 522.72,576.57 523.08,573.49 523.44,570.42 523.79,566.03 524.15,560.97 524.51,555.91 524.86,553.82 525.22,551.88 525.58,551.26 525.94,552.13 526.29,554.17 526.65,556.15 527.01,552.26 527.37,548.81 527.72,547.12 528.08,545.44 528.44,543.75 528.80,546.94 529.15,550.67 529.51,554.87 529.87,560.38 530.22,565.89 530.58,569.85 530.94,572.88 531.30,572.07 531.65,569.15 532.01,566.23 532.37,562.66 532.73,559.09 533.08,556.46 533.44,555.42 533.80,554.38 534.16,553.33 534.51,552.03 534.87,550.73 535.23,548.32 535.58,544.60 535.94,542.27 536.30,539.93 536.66,537.60 537.01,539.55 537.37,542.46 537.73,545.73 538.09,550.59 538.44,555.45 538.80,560.07 539.16,564.48 539.51,568.89 539.87,571.69 540.23,569.42 540.59,567.15 540.94,564.69 541.30,562.09 541.66,555.30 542.02,555.10 542.37,555.60 542.73,556.10 543.09,586.30 543.45,555.60 543.80,556.40 544.16,549.93 544.52,546.73 544.87,544.52 545.23,542.32 545.59,542.15 545.95,544.90 546.30,547.66 546.66,552.09 547.02,557.02 547.38,561.95 547.73,566.23 548.09,569.80 548.45,573.36 548.81,571.51 549.16,568.59 549.52,565.42 549.88,561.20 550.23,556.99 550.59,553.92 550.95,551.76 551.31,551.33 551.66,552.14 552.02,552.42 552.38,550.11 552.74,547.01 553.09,546.13 553.45,545.22 553.81,544.32 554.16,543.98 554.52,546.09 554.88,548.20 555.24,552.24 555.59,557.86 555.95,562.27 556.31,565.77 556.67,569.27 557.02,571.06 557.38,568.34 557.74,565.61 558.10,562.89 558.45,557.76 558.81,552.57 559.17,548.70 559.52,547.41 559.88,546.11 560.24,544.81 560.60,543.52 560.95,541.52 561.31,540.20 561.67,540.29 562.03,540.38 562.38,540.48 562.74,540.57 563.10,543.13 563.46,546.38 563.81,550.00 564.17,555.84 564.53,561.67 564.88,565.86 565.24,568.45 565.60,568.02 565.96,564.91 566.31,561.80 566.67,558.73 567.03,555.81 567.39,552.89 567.74,550.36 568.10,548.09 568.46,545.82 568.82,541.38 569.17,539.46 569.53,539.03 569.89,537.88 570.24,536.37 570.60,534.86 570.96,533.34 571.32,534.93 571.67,537.85 572.03,540.99 572.39,547.47 572.75,553.96 573.10,559.48 573.46,563.69 573.82,567.91 574.17,566.17 574.53,562.80 574.89,559.43 575.25,556.18 575.60,553.07 575.96,549.96 576.32,547.10 576.68,545.38 577.03,543.65 577.39,541.92 577.75,545.40 578.11,544.60 578.46,540.98 578.82,537.36 579.18,533.74 579.53,530.12 579.89,526.50 580.25,531.30 580.61,536.10 580.96,540.90 581.32,545.70 581.68,550.50 582.04,555.30 582.39,560.10 582.75,564.90 583.11,561.45 583.47,558.01 583.82,554.56 584.18,551.11 584.54,547.66 584.89,546.95 585.25,546.23 585.61,545.51 585.97,544.79 586.32,544.07 586.68,543.35 587.04,540.10 587.40,536.85 587.75,533.60 588.11,530.35 588.47,527.10 588.83,532.06 589.18,537.02 589.54,541.99 589.90,546.95 590.25,551.91 590.61,556.88 590.97,561.84 591.33,566.80 591.68,563.30 592.04,559.80 592.40,556.29 592.76,552.79 593.11,549.29 593.47,548.56 593.83,547.83 594.18,547.10 594.54,546.37 594.90,545.64 595.26,544.91 595.61,541.61 595.97,538.31 596.33,535.00 596.69,531.70 597.04,528.40 597.40,533.20 597.76,538.00 598.12,542.80 598.47,547.60 598.83,552.40 599.19,557.20 599.54,562.00 599.90,566.80 600.26,563.12 600.62,559.45 600.97,555.77 601.33,552.10 601.69,548.42 602.05,547.66 602.40,546.89 602.76,546.13 603.12,545.36 603.48,544.59 603.83,543.83 604.19,540.36 604.55,536.90 604.90,533.43 605.26,529.97 605.62,526.50 605.98,531.30 606.33,536.10 606.69,540.90 607.05,545.70 607.41,550.50 607.76,555.30 608.12,560.10 608.48,564.90 608.83,564.90 609.19,564.90 609.55,564.90 609.91,564.90 610.26,547.10 610.62,544.60 610.98,542.60 611.34,541.10 611.69,539.70"/>
<circle cx="225.79" cy="585.85" r="2.85" fill="none" stroke="#ff0000" stroke-width="1.5"/>
<circle cx="226.15" cy="567.00" r="2.85" fill="none" stroke="#ff0000" stroke-width="1.5"/>
<circle cx="412.67" cy="593.30" r="2.85" fill="none" stroke="#ff0000" stroke-width="1.5"/>
<circle cx="413.02" cy="594.40" r="2.85" fill="none" stroke="#ff0000" stroke-width="1.5"/>
<circle cx="413.38" cy="595.40" r="2.85" fill="none" stroke="#ff0000" stroke-width="1.5"/>
<circle cx="413.74" cy="596.30" r="2.85" fill="none" stroke="#ff0000" stroke-width="1.5"/>
<circle cx="414.10" cy="597.00" r="2.85" fill="none" stroke="#ff0000" stroke-width="1.5"/>
<circle cx="414.45" cy="597.50" r="2.85" fill="none" stroke="#ff0000" stroke-width="1.5"/>
<circle cx="414.81" cy="597.50" r="2.85" fill="none" stroke="#ff0000" stroke-width="1.5"/>
<circle cx="415.17" cy="597.50" r="2.85" fill="none" stroke="#ff0000" stroke-width="1.5"/>
<circle cx="415.52" cy="597.50" r="2.85" fill="none" stroke="#ff0000" stroke-width="1.5"/>
<circle cx="415.88" cy="597.50" r="2.85" fill="none" stroke="#ff0000" stroke-width="1.5"/>
<circle cx="416.24" cy="597.50" r="2.85" fill="none" stroke="#ff0000" stroke-width="1.5"/>
<circle cx="416.60" cy="597.50" r="2.85" fill="none" stroke="#ff0000" stroke-width="1.5"/>
<circle cx="416.95" cy="597.50" r="2.85" fill="none" stroke="#ff0000" stroke-width="1.5"/>
<circle cx="417.31" cy="597.50" r="2.85" fill="none" stroke="#ff0000" stroke-width="1.5"/>
<circle cx="417.67" cy="597.50" r="2.85" fill="none" stroke="#ff0000" stroke-width="1.5"/>
<circle cx="418.03" cy="597.50" r="2.85" fill="none" stroke="#ff0000" stroke-width="1.5"/>
<circle cx="418.38" cy="597.50" r="2.85" fill="none" stroke="#ff0000" stroke-width="1.5"/>
<circle cx="418.74" cy="597.50" r="2.85" fill="none" stroke="#ff0000" stroke-width="1.5"/>
<circle cx="419.10" cy="597.50" r="2.85" fill="none" stroke="#ff0000" stroke-width="1.5"/>
<circle cx="419.46" cy="597.50" r="2.85" fill="none" stroke="#ff0000" stroke-width="1.5"/>
<circle cx="419.81" cy="597.50" r="2.85" fill="none" stroke="#ff0000" stroke-width="1.5"/>
<circle cx="420.17" cy="597.50" r="2.85" fill="none" stroke="#ff0000" stroke-width="1.5"/>
<circle cx="420.53" cy="597.50" r="2.85" fill="none" stroke="#ff0000" stroke-width="1.5"/>
<circle cx="420.88" cy="597.50" r="2.85" fill="none" stroke="#ff0000" stroke-width="1.5"/>
<circle cx="421.24" cy="597.50" r="2.85" fill="none" stroke="#ff0000" stroke-width="1.5"/>
<circle cx="421.60" cy="597.50" r="2.85" fill="none" stroke="#ff0000" stroke-width="1.5"/>
<circle cx="421.96" cy="597.50" r="2.85" fill="none" stroke="#ff0000" stroke-width="1.5"/>
<circle cx="422.31" cy="597.50" r="2.85" fill="none" stroke="#ff0000" stroke-width="1.5"/>
<circle cx="422.67" cy="597.50" r="2.85" fill="none" stroke="#ff0000" stroke-width="1.5"/>
<circle cx="423.03" cy="597.50" r="2.85" fill="none" stroke="#ff0000" stroke-width="1.5"/>
<circle cx="423.39" cy="597.50" r="2.85" fill="none" stroke="#ff0000" stroke-width="1.5"/>
<circle cx="423.74" cy="597.50" r="2.85" fill="none" stroke="#ff0000" stroke-width="1.5"/>
<circle cx="424.10" cy="597.50" r="2.85" fill="none" stroke="#ff0000" stroke-width="1.5"/>
<circle cx="424.46" cy="597.50" r="2.85" fill="none" stroke="#ff0000" stroke-width="1.5"/>
<circle cx="424.82" cy="597.50" r="2.85" fill="none" stroke="#ff0000" stroke-width="1.5"/>
<circle cx="425.17" cy="597.50" r="2.85" fill="none" stroke="#ff0000" stroke-width="1.5"/>
<circle cx="425.53" cy="597.50" r="2.85" fill="none" stroke="#ff0000" stroke-width="1.5"/>
<circle cx="425.89" cy="597.50" r="2.85" fill="none" stroke="#ff0000" stroke-width="1.5"/>
<circle cx="426.24" cy="597.50" r="2.85" fill="none" stroke="#ff0000" stroke-width="1.5"/>
<circle cx="426.60" cy="597.50" r="2.85" fill="none" stroke="#ff0000" stroke-width="1.5"/>
<circle cx="426.96" cy="597.50" r="2.85" fill="none" stroke="#ff0000" stroke-width="1.5"/>
<circle cx="427.32" cy="597.50" r="2.85" fill="none" stroke="#ff0000" stroke-width="1.5"/>
<circle cx="427.67" cy="597.50" r="2.85" fill="none" stroke="#ff0000" stroke-width="1.5"/>
<circle cx="428.03" cy="597.50" r="2.85" fill="none" stroke="#ff0000" stroke-width="1.5"/>
<circle cx="428.39" cy="597.50" r="2.85" fill="none" stroke="#ff0000" stroke-width="1.5"/>
<circle cx="428.75" cy="597.50" r="2.85" fill="none" stroke="#ff0000" stroke-width="1.5"/>
<circle cx="429.10" cy="597.50" r="2.85" fill="none" stroke="#ff0000" stroke-width="1.5"/>
<circle cx="429.46" cy="597.50" r="2.85" fill="none" stroke="#ff0000" stroke-width="1.5"/>
<circle cx="429.82" cy="597.50" r="2.85" fill="none" stroke="#ff0000" stroke-width="1.5"/>
<circle cx="430.17" cy="597.50" r="2.85" fill="none" stroke="#ff0000" stroke-width="1.5"/>
<circle cx="430.53" cy="597.50" r="2.85" fill="none" stroke="#ff0000" stroke-width="1.5"/>
<circle cx="430.89" cy="597.50" r="2.85" fill="none" stroke="#ff0000" stroke-width="1.5"/>
<circle cx="431.25" cy="597.50" r="2.85" fill="none" stroke="#ff0000" stroke-width="1.5"/>
<circle cx="431.60" cy="597.50" r="2.85" fill="none" stroke="#ff0000" stroke-width="1.5"/>
<circle cx="431.96" cy="597.50" r="2.85" fill="none" stroke="#ff0000" stroke-width="1.5"/>
<circle cx="432.32" cy="597.50" r="2.85" fill="none" stroke="#ff0000" stroke-width="1.5"/>
<circle cx="432.68" cy="597.50" r="2.85" fill="none" stroke="#ff0000" stroke-width="1.5"/>
<circle cx="433.03" cy="597.50" r="2.85" fill="none" stroke="#ff0000" stroke-width="1.5"/>
<circle cx="433.39" cy="597.50" r="2.85" fill="none" stroke="#ff0000" stroke-width="1.5"/>
<circle cx="433.75" cy="597.50" r="2.85" fill="none" stroke="#ff0000" stroke-width="1.5"/>
<circle cx="434.11" cy="597.50" r="2.85" fill="none" stroke="#ff0000" stroke-width="1.5"/>
<circle cx="434.46" cy="597.50" r="2.85" fill="none" stroke="#ff0000" stroke-width="1.5"/>
<circle cx="434.82" cy="597.50" r="2.85" fill="none" stroke="#ff0000" stroke-width="1.5"/>
<circle cx="435.18" cy="597.50" r="2.85" fill="none" stroke="#ff0000" stroke-width="1.5"/>
<circle cx="435.53" cy="597.50" r="2.85" fill="none" stroke="#ff0000" stroke-width="1.5"/>
<circle cx="435.89" cy="597.50" r="2.85" fill="none" stroke="#ff0000" stroke-width="1.5"/>
<circle cx="436.25" cy="597.50" r="2.85" fill="none" stroke="#ff0000" stroke-width="1.5"/>
<circle cx="436.61" cy="597.50" r="2.85" fill="none" stroke="#ff0000" stroke-width="1.5"/>
<circle cx="436.96" cy="597.50" r="2.85" fill="none" stroke="#ff0000" stroke-width="1.5"/>
<circle cx="437.32" cy="597.50" r="2.85" fill="none" stroke="#ff0000" stroke-width="1.5"/>
<circle cx="437.68" cy="597.50" r="2.85" fill="none" stroke="#ff0000" stroke-width="1.5"/>
<circle cx="438.04" cy="597.50" r="2.85" fill="none" stroke="#ff0000" stroke-width="1.5"/>
<circle cx="438.39" cy="597.50" r="2.85" fill="none" stroke="#ff0000" stroke-width="1.5"/>
<circle cx="438.75" cy="597.50" r="2.85" fill="none" stroke="#ff0000" stroke-width="1.5"/>
<circle cx="439.11" cy="597.50" r="2.85" fill="none" stroke="#ff0000" stroke-width="1.5"/>
<circle cx="439.47" cy="597.50" r="2.85" fill="none" stroke="#ff0000" stroke-width="1.5"/>
<circle cx="439.82" cy="597.50" r="2.85" fill="none" stroke="#ff0000" stroke-width="1.5"/>
<circle cx="440.18" cy="597.50" r="2.85" fill="none" stroke="#ff0000" stroke-width="1.5"/>
<circle cx="440.54" cy="597.50" r="2.85" fill="none" stroke="#ff0000" stroke-width="1.5"/>
<circle cx="440.89" cy="597.50" r="2.85" fill="none" stroke="#ff0000" stroke-width="1.5"/>
<circle cx="441.25" cy="587.80" r="2.85" fill="none" stroke="#ff0000" stroke-width="1.5"/>
<circle cx="478.41" cy="596.90" r="2.85" fill="none" stroke="#ff0000" stroke-width="1.5"/>
<circle cx="478.77" cy="572.90" r="2.85" fill="none" stroke="#ff0000" stroke-width="1.5"/>
<circle cx="543.09" cy="586.30" r="2.85" fill="none" stroke="#ff0000" stroke-width="1.5"/>
<circle cx="543.45" cy="555.60" r="2.85" fill="none" stroke="#ff0000" stroke-width="1.5"/>
<rect x="71.80" y="522.98" width="565.60" height="77.95" fill="none" stroke="#111" stroke-width="1.45"/>
<line x1="67.90" y1="597.50" x2="71.80" y2="597.50" stroke="#000" stroke-width="1.15"/>
<text x="63.40" y="601.80" text-anchor="end" textLength="6.90" lengthAdjust="spacingAndGlyphs" class="tk">0</text>
<line x1="67.90" y1="559.10" x2="71.80" y2="559.10" stroke="#000" stroke-width="1.15"/>
<text x="63.40" y="563.40" text-anchor="end" textLength="36.00" lengthAdjust="spacingAndGlyphs" class="tk">20000</text>
<line x1="97.51" y1="600.93" x2="97.51" y2="604.83" stroke="#000" stroke-width="1.15"/>
<text x="97.51" y="617.63" text-anchor="middle" textLength="6.90" lengthAdjust="spacingAndGlyphs" class="tk">0</text>
<line x1="168.97" y1="600.93" x2="168.97" y2="604.83" stroke="#000" stroke-width="1.15"/>
<text x="168.97" y="617.63" text-anchor="middle" textLength="21.20" lengthAdjust="spacingAndGlyphs" class="tk">200</text>
<line x1="240.44" y1="600.93" x2="240.44" y2="604.83" stroke="#000" stroke-width="1.15"/>
<text x="240.44" y="617.63" text-anchor="middle" textLength="21.00" lengthAdjust="spacingAndGlyphs" class="tk">400</text>
<line x1="311.90" y1="600.93" x2="311.90" y2="604.83" stroke="#000" stroke-width="1.15"/>
<text x="311.90" y="617.63" text-anchor="middle" textLength="21.00" lengthAdjust="spacingAndGlyphs" class="tk">600</text>
<line x1="383.37" y1="600.93" x2="383.37" y2="604.83" stroke="#000" stroke-width="1.15"/>
<text x="383.37" y="617.63" text-anchor="middle" textLength="21.00" lengthAdjust="spacingAndGlyphs" class="tk">800</text>
<line x1="454.83" y1="600.93" x2="454.83" y2="604.83" stroke="#000" stroke-width="1.15"/>
<text x="454.83" y="617.63" text-anchor="middle" textLength="28.10" lengthAdjust="spacingAndGlyphs" class="tk">1000</text>
<line x1="526.29" y1="600.93" x2="526.29" y2="604.83" stroke="#000" stroke-width="1.15"/>
<text x="526.29" y="617.63" text-anchor="middle" textLength="28.10" lengthAdjust="spacingAndGlyphs" class="tk">1200</text>
<line x1="597.76" y1="600.93" x2="597.76" y2="604.83" stroke="#000" stroke-width="1.15"/>
<text x="597.76" y="617.63" text-anchor="middle" textLength="28.10" lengthAdjust="spacingAndGlyphs" class="tk">1400</text>
<text x="354.60" y="633.83" text-anchor="middle" textLength="61.00" lengthAdjust="spacingAndGlyphs">time index</text>
<g transform="translate(20.10,561.96) rotate(-90)"><text x="0.00" y="0.00" text-anchor="middle" textLength="76.21" lengthAdjust="spacingAndGlyphs">Expand Label</text></g>
<rect x="77.4" y="529.00" width="122.5" height="20.6" rx="2.3" fill="#fff" fill-opacity="0.8" stroke="#d6d6d6" stroke-width="1"/>
<circle cx="93.8" cy="538.50" r="2.9" fill="none" stroke="#ff0000" stroke-width="1.25"/>
<text x="114.20" y="542.55" text-anchor="start" textLength="80.80" lengthAdjust="spacingAndGlyphs">True Anomaly</text>
</svg></body></html>
